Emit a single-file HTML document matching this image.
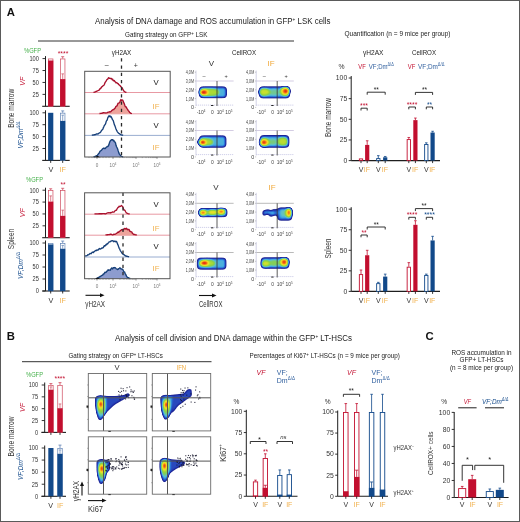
<!DOCTYPE html><html><head><meta charset="utf-8"><style>html,body{margin:0;padding:0;background:#fff;}svg{display:block;will-change:transform;}text{font-family:"Liberation Sans",sans-serif;}</style></head><body><svg width="520" height="522" viewBox="0 0 520 522" font-family='"Liberation Sans", sans-serif'><defs><filter id="jet" x="-20%" y="-40%" width="140%" height="180%" color-interpolation-filters="sRGB"><feGaussianBlur in="SourceAlpha" stdDeviation="1.0" result="b"/><feColorMatrix in="b" type="matrix" values="0 0 0 1 0 0 0 0 1 0 0 0 0 1 0 0 0 0 1 0"/><feComponentTransfer><feFuncR type="table" tableValues="0.1 0.1 0.1 0.1 0.12 0.16 0.16 0.25 0.38 0.48 0.55 0.65 0.8 0.93 0.97 0.97 0.93 0.88 0.82 0.78 0.76"/><feFuncG type="table" tableValues="0.1 0.1 0.12 0.13 0.18 0.28 0.45 0.65 0.76 0.8 0.82 0.85 0.88 0.88 0.78 0.58 0.38 0.18 0.08 0.05 0.04"/><feFuncB type="table" tableValues="0.5 0.52 0.55 0.58 0.64 0.74 0.84 0.9 0.78 0.45 0.28 0.22 0.18 0.15 0.12 0.1 0.08 0.07 0.07 0.05 0.04"/><feFuncA type="table" tableValues="0 0 1 1 1 1 1 1 1 1 1 1 1"/></feComponentTransfer></filter><filter id="bl" x="-20%" y="-40%" width="140%" height="180%"><feGaussianBlur stdDeviation="0.55"/></filter><filter id="bl2" x="-30%" y="-30%" width="160%" height="160%"><feGaussianBlur stdDeviation="0.7"/></filter></defs><rect width="520" height="522" fill="#fff"/><rect x="0.5" y="0.5" width="519" height="521" fill="none" stroke="#5a5a5a" stroke-width="1" />
<text x="6.8" y="16.3" font-size="11.3" fill="#111" text-anchor="start" font-weight="bold" >A</text>
<text x="6.8" y="340.2" font-size="11.3" fill="#111" text-anchor="start" font-weight="bold" >B</text>
<text x="425.5" y="339.8" font-size="11.3" fill="#111" text-anchor="start" font-weight="bold" >C</text>
<text x="95" y="23.6" font-size="8.4" fill="#222" text-anchor="start" textLength="235.5" lengthAdjust="spacingAndGlyphs" >Analysis of DNA damage and ROS accumulation in GFP<tspan font-size="5" dy="-3">+</tspan><tspan dy="3"> LSK cells</tspan></text>
<text x="125" y="37.2" font-size="6.6" fill="#222" text-anchor="start" textLength="82.5" lengthAdjust="spacingAndGlyphs" >Gating strategy on GFP<tspan font-size="4.5" dy="-2.5">+</tspan><tspan dy="2.5"> LSK</tspan></text>
<line x1="38" y1="41" x2="294" y2="41" stroke="#333" stroke-width="1" />
<text x="344.5" y="36.4" font-size="6.6" fill="#222" text-anchor="start" textLength="106" lengthAdjust="spacingAndGlyphs" >Quantification (n = 9 mice per group)</text>
<text x="115" y="341.2" font-size="8.4" fill="#222" text-anchor="start" textLength="237" lengthAdjust="spacingAndGlyphs" >Analysis of cell division and DNA damage within the GFP<tspan font-size="5" dy="-3">+</tspan><tspan dy="3"> LT-HSCs</tspan></text>
<text x="68.5" y="358" font-size="6.6" fill="#222" text-anchor="start" textLength="94.3" lengthAdjust="spacingAndGlyphs" >Gating strategy on GFP<tspan font-size="4.5" dy="-2.5">+</tspan><tspan dy="2.5"> LT-HSCs</tspan></text>
<line x1="22" y1="361.7" x2="211.5" y2="361.7" stroke="#333" stroke-width="1" />
<text x="249.5" y="358.2" font-size="6.6" fill="#222" text-anchor="start" textLength="150.3" lengthAdjust="spacingAndGlyphs" >Percentages of Ki67<tspan font-size="4.5" dy="-2.5">+</tspan><tspan dy="2.5"> LT-HSCs (n = 9 mice per group)</tspan></text>
<text x="481.5" y="355" font-size="6.4" fill="#222" text-anchor="middle" >ROS accumulation in</text>
<text x="481.5" y="362.2" font-size="6.4" fill="#222" text-anchor="middle" >GFP+ LT-HSCs</text>
<text x="481.5" y="370" font-size="6.4" fill="#222" text-anchor="middle" >(n = 8 mice per group)</text>
<text x="24" y="52.5" font-size="6.4" fill="#45b04a" text-anchor="start" textLength="17" lengthAdjust="spacingAndGlyphs" >%GFP</text>
<text x="63" y="56.1" font-size="8.049999999999999" fill="#c20f2f" text-anchor="middle" textLength="10.6" lengthAdjust="spacingAndGlyphs" >****</text>
<line x1="45.5" y1="56.1" x2="45.5" y2="106.3" stroke="#1e1e1e" stroke-width="1" />
<line x1="42.5" y1="58.599999999999994" x2="45.5" y2="58.599999999999994" stroke="#1e1e1e" stroke-width="0.9" />
<text x="38.9" y="60.89999999999999" font-size="6.6" fill="#333" text-anchor="end" textLength="9.45" lengthAdjust="spacingAndGlyphs" >100</text>
<line x1="42.5" y1="70.525" x2="45.5" y2="70.525" stroke="#1e1e1e" stroke-width="0.9" />
<text x="38.9" y="72.825" font-size="6.6" fill="#333" text-anchor="end" textLength="6.3" lengthAdjust="spacingAndGlyphs" >75</text>
<line x1="42.5" y1="82.44999999999999" x2="45.5" y2="82.44999999999999" stroke="#1e1e1e" stroke-width="0.9" />
<text x="38.9" y="84.74999999999999" font-size="6.6" fill="#333" text-anchor="end" textLength="6.3" lengthAdjust="spacingAndGlyphs" >50</text>
<line x1="42.5" y1="94.375" x2="45.5" y2="94.375" stroke="#1e1e1e" stroke-width="0.9" />
<text x="38.9" y="96.675" font-size="6.6" fill="#333" text-anchor="end" textLength="6.3" lengthAdjust="spacingAndGlyphs" >25</text>
<line x1="42.2" y1="106.3" x2="69.7" y2="106.3" stroke="#1e1e1e" stroke-width="1.1" />
<rect x="48.45" y="58.949999999999996" width="4.5" height="47.35" fill="#fff" stroke="#cf4a5e" stroke-width="0.7" />
<rect x="48.1" y="60.507999999999996" width="5.2" height="45.792" fill="#c20f2f" stroke="none" stroke-width="1" />
<line x1="62.7" y1="58.599999999999994" x2="62.7" y2="56.69200000000001" stroke="#cf4a5e" stroke-width="0.8" />
<line x1="61.2" y1="56.69200000000001" x2="64.2" y2="56.69200000000001" stroke="#cf4a5e" stroke-width="0.8" />
<rect x="60.45" y="58.949999999999996" width="4.5" height="47.35" fill="#fff" stroke="#cf4a5e" stroke-width="0.7" />
<rect x="60.1" y="79.111" width="5.2" height="27.188999999999993" fill="#c20f2f" stroke="none" stroke-width="1" />
<line x1="62.7" y1="79.111" x2="62.7" y2="73.864" stroke="#cf4a5e" stroke-width="0.7" />
<line x1="61.400000000000006" y1="73.864" x2="64.0" y2="73.864" stroke="#cf4a5e" stroke-width="0.7" />
<line x1="45.5" y1="110.3" x2="45.5" y2="160.4" stroke="#1e1e1e" stroke-width="1" />
<line x1="42.5" y1="112.8" x2="45.5" y2="112.8" stroke="#1e1e1e" stroke-width="0.9" />
<text x="38.9" y="115.1" font-size="6.6" fill="#333" text-anchor="end" textLength="9.45" lengthAdjust="spacingAndGlyphs" >100</text>
<line x1="42.5" y1="124.7" x2="45.5" y2="124.7" stroke="#1e1e1e" stroke-width="0.9" />
<text x="38.9" y="127.0" font-size="6.6" fill="#333" text-anchor="end" textLength="6.3" lengthAdjust="spacingAndGlyphs" >75</text>
<line x1="42.5" y1="136.6" x2="45.5" y2="136.6" stroke="#1e1e1e" stroke-width="0.9" />
<text x="38.9" y="138.9" font-size="6.6" fill="#333" text-anchor="end" textLength="6.3" lengthAdjust="spacingAndGlyphs" >50</text>
<line x1="42.5" y1="148.5" x2="45.5" y2="148.5" stroke="#1e1e1e" stroke-width="0.9" />
<text x="38.9" y="150.8" font-size="6.6" fill="#333" text-anchor="end" textLength="6.3" lengthAdjust="spacingAndGlyphs" >25</text>
<line x1="42.2" y1="160.4" x2="69.7" y2="160.4" stroke="#1e1e1e" stroke-width="1.1" />
<rect x="48.1" y="112.8" width="5.2" height="47.60000000000001" fill="#12498a" stroke="none" stroke-width="1" />
<line x1="50.7" y1="160.4" x2="50.7" y2="162.9" stroke="#1e1e1e" stroke-width="0.9" />
<line x1="62.7" y1="112.8" x2="62.7" y2="110.896" stroke="#5f82b4" stroke-width="0.8" />
<line x1="61.2" y1="110.896" x2="64.2" y2="110.896" stroke="#5f82b4" stroke-width="0.8" />
<rect x="60.45" y="113.14999999999999" width="4.5" height="47.25000000000001" fill="#fff" stroke="#5f82b4" stroke-width="0.7" />
<rect x="60.1" y="120.892" width="5.2" height="39.50800000000001" fill="#12498a" stroke="none" stroke-width="1" />
<line x1="62.7" y1="120.892" x2="62.7" y2="115.18" stroke="#5f82b4" stroke-width="0.7" />
<line x1="61.400000000000006" y1="115.18" x2="64.0" y2="115.18" stroke="#5f82b4" stroke-width="0.7" />
<line x1="62.7" y1="160.4" x2="62.7" y2="162.9" stroke="#1e1e1e" stroke-width="0.9" />
<text x="50.8" y="171.8" font-size="7.2" fill="#333" text-anchor="middle" >V</text>
<text x="62.8" y="171.8" font-size="7.2" fill="#f1b250" text-anchor="middle" >IF</text>
<text x="26" y="181.5" font-size="6.4" fill="#45b04a" text-anchor="start" textLength="17" lengthAdjust="spacingAndGlyphs" >%GFP</text>
<text x="63" y="186.6" font-size="8.049999999999999" fill="#c20f2f" text-anchor="middle" textLength="5.1" lengthAdjust="spacingAndGlyphs" >**</text>
<line x1="45.5" y1="187.7" x2="45.5" y2="237.7" stroke="#1e1e1e" stroke-width="1" />
<line x1="42.5" y1="190.2" x2="45.5" y2="190.2" stroke="#1e1e1e" stroke-width="0.9" />
<text x="38.9" y="192.5" font-size="6.6" fill="#333" text-anchor="end" textLength="9.45" lengthAdjust="spacingAndGlyphs" >100</text>
<line x1="42.5" y1="202.075" x2="45.5" y2="202.075" stroke="#1e1e1e" stroke-width="0.9" />
<text x="38.9" y="204.375" font-size="6.6" fill="#333" text-anchor="end" textLength="6.3" lengthAdjust="spacingAndGlyphs" >75</text>
<line x1="42.5" y1="213.95" x2="45.5" y2="213.95" stroke="#1e1e1e" stroke-width="0.9" />
<text x="38.9" y="216.25" font-size="6.6" fill="#333" text-anchor="end" textLength="6.3" lengthAdjust="spacingAndGlyphs" >50</text>
<line x1="42.5" y1="225.825" x2="45.5" y2="225.825" stroke="#1e1e1e" stroke-width="0.9" />
<text x="38.9" y="228.125" font-size="6.6" fill="#333" text-anchor="end" textLength="6.3" lengthAdjust="spacingAndGlyphs" >25</text>
<line x1="42.2" y1="237.7" x2="69.7" y2="237.7" stroke="#1e1e1e" stroke-width="1.1" />
<line x1="50.7" y1="190.2" x2="50.7" y2="188.77499999999998" stroke="#cf4a5e" stroke-width="0.8" />
<line x1="49.2" y1="188.77499999999998" x2="52.2" y2="188.77499999999998" stroke="#cf4a5e" stroke-width="0.8" />
<rect x="48.45" y="190.54999999999998" width="4.5" height="47.15" fill="#fff" stroke="#cf4a5e" stroke-width="0.7" />
<rect x="48.1" y="201.6" width="5.2" height="36.099999999999994" fill="#c20f2f" stroke="none" stroke-width="1" />
<line x1="50.7" y1="201.6" x2="50.7" y2="195.89999999999998" stroke="#cf4a5e" stroke-width="0.7" />
<line x1="49.400000000000006" y1="195.89999999999998" x2="52.0" y2="195.89999999999998" stroke="#cf4a5e" stroke-width="0.7" />
<line x1="62.7" y1="190.2" x2="62.7" y2="188.29999999999998" stroke="#cf4a5e" stroke-width="0.8" />
<line x1="61.2" y1="188.29999999999998" x2="64.2" y2="188.29999999999998" stroke="#cf4a5e" stroke-width="0.8" />
<rect x="60.45" y="190.54999999999998" width="4.5" height="47.15" fill="#fff" stroke="#cf4a5e" stroke-width="0.7" />
<rect x="60.1" y="215.85" width="5.2" height="21.849999999999994" fill="#c20f2f" stroke="none" stroke-width="1" />
<line x1="62.7" y1="215.85" x2="62.7" y2="210.14999999999998" stroke="#cf4a5e" stroke-width="0.7" />
<line x1="61.400000000000006" y1="210.14999999999998" x2="64.0" y2="210.14999999999998" stroke="#cf4a5e" stroke-width="0.7" />
<line x1="45.5" y1="240.5" x2="45.5" y2="291" stroke="#1e1e1e" stroke-width="1" />
<line x1="42.5" y1="243.0" x2="45.5" y2="243.0" stroke="#1e1e1e" stroke-width="0.9" />
<text x="38.9" y="245.3" font-size="6.6" fill="#333" text-anchor="end" textLength="9.45" lengthAdjust="spacingAndGlyphs" >100</text>
<line x1="42.5" y1="255.0" x2="45.5" y2="255.0" stroke="#1e1e1e" stroke-width="0.9" />
<text x="38.9" y="257.3" font-size="6.6" fill="#333" text-anchor="end" textLength="6.3" lengthAdjust="spacingAndGlyphs" >75</text>
<line x1="42.5" y1="267.0" x2="45.5" y2="267.0" stroke="#1e1e1e" stroke-width="0.9" />
<text x="38.9" y="269.3" font-size="6.6" fill="#333" text-anchor="end" textLength="6.3" lengthAdjust="spacingAndGlyphs" >50</text>
<line x1="42.5" y1="279.0" x2="45.5" y2="279.0" stroke="#1e1e1e" stroke-width="0.9" />
<text x="38.9" y="281.3" font-size="6.6" fill="#333" text-anchor="end" textLength="6.3" lengthAdjust="spacingAndGlyphs" >25</text>
<line x1="42.5" y1="291.0" x2="45.5" y2="291.0" stroke="#1e1e1e" stroke-width="0.9" />
<text x="38.9" y="293.3" font-size="6.6" fill="#333" text-anchor="end" textLength="3.15" lengthAdjust="spacingAndGlyphs" >0</text>
<line x1="42.2" y1="291" x2="69.7" y2="291" stroke="#1e1e1e" stroke-width="1.1" />
<rect x="48.45" y="243.35" width="4.5" height="47.65" fill="#fff" stroke="#5f82b4" stroke-width="0.7" />
<rect x="48.1" y="244.44" width="5.2" height="46.56" fill="#12498a" stroke="none" stroke-width="1" />
<line x1="50.7" y1="291" x2="50.7" y2="293.5" stroke="#1e1e1e" stroke-width="0.9" />
<line x1="62.7" y1="243.0" x2="62.7" y2="241.07999999999998" stroke="#5f82b4" stroke-width="0.8" />
<line x1="61.2" y1="241.07999999999998" x2="64.2" y2="241.07999999999998" stroke="#5f82b4" stroke-width="0.8" />
<rect x="60.45" y="243.35" width="4.5" height="47.65" fill="#fff" stroke="#5f82b4" stroke-width="0.7" />
<rect x="60.1" y="248.76" width="5.2" height="42.24000000000001" fill="#12498a" stroke="none" stroke-width="1" />
<line x1="62.7" y1="248.76" x2="62.7" y2="245.4" stroke="#5f82b4" stroke-width="0.7" />
<line x1="61.400000000000006" y1="245.4" x2="64.0" y2="245.4" stroke="#5f82b4" stroke-width="0.7" />
<line x1="62.7" y1="291" x2="62.7" y2="293.5" stroke="#1e1e1e" stroke-width="0.9" />
<text x="50.8" y="302.5" font-size="7.2" fill="#333" text-anchor="middle" >V</text>
<text x="62.8" y="302.5" font-size="7.2" fill="#f1b250" text-anchor="middle" >IF</text>
<text x="26" y="377.3" font-size="6.4" fill="#45b04a" text-anchor="start" textLength="17" lengthAdjust="spacingAndGlyphs" >%GFP</text>
<text x="59.8" y="380.8" font-size="8.049999999999999" fill="#c20f2f" text-anchor="middle" textLength="10.6" lengthAdjust="spacingAndGlyphs" >****</text>
<line x1="44.7" y1="382.5" x2="44.7" y2="432.4" stroke="#1e1e1e" stroke-width="1" />
<line x1="41.7" y1="385.0" x2="44.7" y2="385.0" stroke="#1e1e1e" stroke-width="0.9" />
<text x="38.1" y="387.3" font-size="6.6" fill="#333" text-anchor="end" textLength="9.45" lengthAdjust="spacingAndGlyphs" >100</text>
<line x1="41.7" y1="396.85" x2="44.7" y2="396.85" stroke="#1e1e1e" stroke-width="0.9" />
<text x="38.1" y="399.15000000000003" font-size="6.6" fill="#333" text-anchor="end" textLength="6.3" lengthAdjust="spacingAndGlyphs" >75</text>
<line x1="41.7" y1="408.7" x2="44.7" y2="408.7" stroke="#1e1e1e" stroke-width="0.9" />
<text x="38.1" y="411.0" font-size="6.6" fill="#333" text-anchor="end" textLength="6.3" lengthAdjust="spacingAndGlyphs" >50</text>
<line x1="41.7" y1="420.54999999999995" x2="44.7" y2="420.54999999999995" stroke="#1e1e1e" stroke-width="0.9" />
<text x="38.1" y="422.84999999999997" font-size="6.6" fill="#333" text-anchor="end" textLength="6.3" lengthAdjust="spacingAndGlyphs" >25</text>
<line x1="41.7" y1="432.4" x2="44.7" y2="432.4" stroke="#1e1e1e" stroke-width="0.9" />
<text x="38.1" y="434.7" font-size="6.6" fill="#333" text-anchor="end" textLength="3.15" lengthAdjust="spacingAndGlyphs" >0</text>
<line x1="41.400000000000006" y1="432.4" x2="66" y2="432.4" stroke="#1e1e1e" stroke-width="1.1" />
<line x1="50.9" y1="385.0" x2="50.9" y2="383.578" stroke="#cf4a5e" stroke-width="0.8" />
<line x1="49.4" y1="383.578" x2="52.4" y2="383.578" stroke="#cf4a5e" stroke-width="0.8" />
<rect x="48.65" y="385.35" width="4.5" height="47.049999999999976" fill="#fff" stroke="#cf4a5e" stroke-width="0.7" />
<rect x="48.3" y="389.74" width="5.2" height="42.65999999999997" fill="#c20f2f" stroke="none" stroke-width="1" />
<line x1="50.9" y1="389.74" x2="50.9" y2="386.896" stroke="#cf4a5e" stroke-width="0.7" />
<line x1="49.6" y1="386.896" x2="52.199999999999996" y2="386.896" stroke="#cf4a5e" stroke-width="0.7" />
<line x1="50.9" y1="432.4" x2="50.9" y2="434.9" stroke="#1e1e1e" stroke-width="0.9" />
<line x1="60" y1="385.0" x2="60" y2="382.63" stroke="#cf4a5e" stroke-width="0.8" />
<line x1="58.5" y1="382.63" x2="61.5" y2="382.63" stroke="#cf4a5e" stroke-width="0.8" />
<rect x="57.75" y="385.35" width="4.5" height="47.049999999999976" fill="#fff" stroke="#cf4a5e" stroke-width="0.7" />
<rect x="57.4" y="408.226" width="5.2" height="24.173999999999978" fill="#c20f2f" stroke="none" stroke-width="1" />
<line x1="60" y1="408.226" x2="60" y2="403.96" stroke="#cf4a5e" stroke-width="0.7" />
<line x1="58.7" y1="403.96" x2="61.3" y2="403.96" stroke="#cf4a5e" stroke-width="0.7" />
<line x1="60" y1="432.4" x2="60" y2="434.9" stroke="#1e1e1e" stroke-width="0.9" />
<line x1="44.7" y1="445.5" x2="44.7" y2="496.3" stroke="#1e1e1e" stroke-width="1" />
<line x1="41.7" y1="448.0" x2="44.7" y2="448.0" stroke="#1e1e1e" stroke-width="0.9" />
<text x="38.1" y="450.3" font-size="6.6" fill="#333" text-anchor="end" textLength="9.45" lengthAdjust="spacingAndGlyphs" >100</text>
<line x1="41.7" y1="460.075" x2="44.7" y2="460.075" stroke="#1e1e1e" stroke-width="0.9" />
<text x="38.1" y="462.375" font-size="6.6" fill="#333" text-anchor="end" textLength="6.3" lengthAdjust="spacingAndGlyphs" >75</text>
<line x1="41.7" y1="472.15" x2="44.7" y2="472.15" stroke="#1e1e1e" stroke-width="0.9" />
<text x="38.1" y="474.45" font-size="6.6" fill="#333" text-anchor="end" textLength="6.3" lengthAdjust="spacingAndGlyphs" >50</text>
<line x1="41.7" y1="484.225" x2="44.7" y2="484.225" stroke="#1e1e1e" stroke-width="0.9" />
<text x="38.1" y="486.52500000000003" font-size="6.6" fill="#333" text-anchor="end" textLength="6.3" lengthAdjust="spacingAndGlyphs" >25</text>
<line x1="41.7" y1="496.3" x2="44.7" y2="496.3" stroke="#1e1e1e" stroke-width="0.9" />
<text x="38.1" y="498.6" font-size="6.6" fill="#333" text-anchor="end" textLength="3.15" lengthAdjust="spacingAndGlyphs" >0</text>
<line x1="41.400000000000006" y1="496.3" x2="66" y2="496.3" stroke="#1e1e1e" stroke-width="1.1" />
<rect x="48.3" y="448.0" width="5.2" height="48.30000000000001" fill="#12498a" stroke="none" stroke-width="1" />
<line x1="50.9" y1="496.3" x2="50.9" y2="498.8" stroke="#1e1e1e" stroke-width="0.9" />
<line x1="60" y1="448.0" x2="60" y2="445.102" stroke="#5f82b4" stroke-width="0.8" />
<line x1="58.5" y1="445.102" x2="61.5" y2="445.102" stroke="#5f82b4" stroke-width="0.8" />
<rect x="57.75" y="448.35" width="4.5" height="47.95000000000001" fill="#fff" stroke="#5f82b4" stroke-width="0.7" />
<rect x="57.4" y="453.796" width="5.2" height="42.50400000000002" fill="#12498a" stroke="none" stroke-width="1" />
<line x1="60" y1="453.796" x2="60" y2="449.932" stroke="#5f82b4" stroke-width="0.7" />
<line x1="58.7" y1="449.932" x2="61.3" y2="449.932" stroke="#5f82b4" stroke-width="0.7" />
<line x1="60" y1="496.3" x2="60" y2="498.8" stroke="#1e1e1e" stroke-width="0.9" />
<text x="50.6" y="507.5" font-size="7.2" fill="#333" text-anchor="middle" >V</text>
<text x="60.2" y="507.5" font-size="7.2" fill="#f1b250" text-anchor="middle" >IF</text>
<text transform="translate(24.8,81.3) rotate(-90)" font-size="7" fill="#c20f2f" text-anchor="middle" font-style="italic" >VF</text>
<text transform="translate(22.5,135) rotate(-90)" font-size="6.4" fill="#12498a" text-anchor="middle" font-style="italic" >VF;Dm<tspan font-size="4.5" dy="-2.5">Δ/Δ</tspan></text>
<text transform="translate(14.3,108.3) rotate(-90)" font-size="8.8" fill="#333" text-anchor="middle" textLength="39" lengthAdjust="spacingAndGlyphs" >Bone marrow</text>
<text transform="translate(24.8,212.8) rotate(-90)" font-size="7" fill="#c20f2f" text-anchor="middle" font-style="italic" >VF</text>
<text transform="translate(22.5,265.5) rotate(-90)" font-size="6.4" fill="#12498a" text-anchor="middle" font-style="italic" >VF;Dm<tspan font-size="4.5" dy="-2.5">Δ/Δ</tspan></text>
<text transform="translate(14.3,239) rotate(-90)" font-size="8.8" fill="#333" text-anchor="middle" textLength="20.5" lengthAdjust="spacingAndGlyphs" >Spleen</text>
<text transform="translate(24.8,407.5) rotate(-90)" font-size="7" fill="#c20f2f" text-anchor="middle" font-style="italic" >VF</text>
<text transform="translate(22.5,466.5) rotate(-90)" font-size="6.4" fill="#12498a" text-anchor="middle" font-style="italic" >VF;Dm<tspan font-size="4.5" dy="-2.5">Δ/Δ</tspan></text>
<text transform="translate(14.3,436.5) rotate(-90)" font-size="8.8" fill="#333" text-anchor="middle" textLength="40" lengthAdjust="spacingAndGlyphs" >Bone marrow</text>
<text x="121.5" y="54.6" font-size="7" fill="#222" text-anchor="middle" textLength="19.5" lengthAdjust="spacingAndGlyphs" >γH2AX</text>
<text x="106.8" y="67" font-size="7" fill="#333" text-anchor="middle" >–</text>
<text x="135.7" y="67.5" font-size="7" fill="#333" text-anchor="middle" >+</text>
<rect x="84.7" y="71.3" width="85.49999999999999" height="85.7" fill="#fff" stroke="none" stroke-width="1" />
<line x1="84.7" y1="92.5" x2="170.2" y2="92.5" stroke="#e27f8c" stroke-width="0.8" />
<line x1="84.7" y1="113.8" x2="170.2" y2="113.8" stroke="#e27f8c" stroke-width="0.8" />
<line x1="84.7" y1="135.4" x2="170.2" y2="135.4" stroke="#7f98c4" stroke-width="0.8" />
<path d="M93.45,92.31 L94.00,92.22 L94.55,92.11 L95.10,91.96 L95.65,91.76 L96.20,91.31 L96.75,91.37 L97.30,90.78 L97.85,90.62 L98.40,90.44 L98.95,90.17 L99.50,89.65 L100.05,88.67 L100.60,88.50 L101.15,87.74 L101.70,86.98 L102.25,86.56 L102.80,85.79 L103.35,85.63 L103.90,85.17 L104.45,84.31 L105.00,82.71 L105.55,81.82 L106.10,81.14 L106.65,79.98 L107.20,79.34 L107.75,79.11 L108.30,78.04 L108.85,77.68 L109.40,78.43 L109.95,78.37 L110.50,78.62 L111.05,78.33 L111.60,78.64 L112.15,79.71 L112.70,79.21 L113.25,80.53 L113.80,80.81 L114.35,80.55 L114.90,81.58 L115.45,81.78 L116.00,82.86 L116.55,82.73 L117.10,82.86 L117.65,83.51 L118.20,83.68 L118.75,84.75 L119.30,84.98 L119.85,85.45 L120.40,85.98 L120.95,86.74 L121.50,87.13 L122.05,87.72 L122.60,88.94 L123.15,89.78 L123.70,90.92 L124.25,91.30 L124.80,91.70 L125.35,92.07 L125.90,92.26 L126.45,92.37" fill="none" stroke="#a8102c" stroke-width="1.35" stroke-linejoin="round"/>
<path d="M85.20,113.80 L85.75,113.80 L86.30,113.80 L86.85,113.80 L87.40,113.80 L87.95,113.80 L88.50,113.80 L89.05,113.80 L89.60,113.80 L90.15,113.80 L90.70,113.80 L91.25,113.80 L91.80,113.79 L92.35,113.79 L92.90,113.79 L93.45,113.78 L94.00,113.78 L94.55,113.77 L95.10,113.76 L95.65,113.75 L96.20,113.73 L96.75,113.71 L97.30,113.69 L97.85,113.66 L98.40,113.62 L98.95,113.58 L99.50,113.54 L100.05,113.48 L100.60,113.43 L101.15,113.36 L101.70,113.29 L102.25,113.22 L102.80,112.94 L103.35,112.76 L103.90,112.63 L104.45,112.79 L105.00,112.92 L105.55,112.95 L106.10,112.95 L106.65,112.93 L107.20,112.65 L107.75,112.32 L108.30,112.12 L108.85,112.16 L109.40,111.99 L109.95,111.69 L110.50,111.89 L111.05,111.43 L111.60,110.79 L112.15,110.33 L112.70,109.87 L113.25,109.64 L113.80,109.58 L114.35,108.64 L114.90,108.38 L115.45,107.40 L116.00,106.34 L116.55,106.16 L117.10,105.66 L117.65,104.16 L118.20,103.21 L118.75,103.11 L119.30,102.73 L119.85,102.18 L120.40,100.37 L120.95,99.57 L121.50,100.51 L122.05,100.05 L122.60,100.00 L123.15,101.05 L123.70,102.63 L124.25,103.62 L124.80,105.26 L125.35,106.70 L125.90,106.62 L126.45,107.53 L127.00,108.61 L127.55,109.19 L128.10,110.39 L128.65,110.97 L129.20,111.63 L129.75,112.54 L130.30,113.07 L130.85,113.26 L131.40,113.47 L131.95,113.61 L132.50,113.70 L133.05,113.75 L133.60,113.77 L134.15,113.79 L134.70,113.79 L135.25,113.80 L135.80,113.80 L136.35,113.80 L136.90,113.80 L137.45,113.80 L138.00,113.80 L138.55,113.80 L139.10,113.80 L139.65,113.80 L140.20,113.80 L140.75,113.80 L141.30,113.80 L141.85,113.80 L142.40,113.80 L142.95,113.80 L143.50,113.80 L144.05,113.80 L144.60,113.80 L145.15,113.80 L145.70,113.80 L146.25,113.80 L146.80,113.80 L147.35,113.80 L147.90,113.80 L148.45,113.80 L149.00,113.80 L149.55,113.80 L150.10,113.80 L150.65,113.80 L151.20,113.80 L151.75,113.80 L152.30,113.80 L152.85,113.80 L153.40,113.80 L153.95,113.80 L154.50,113.80 L155.05,113.80 L155.60,113.80 L156.15,113.80 L156.70,113.80 L157.25,113.80 L157.80,113.80 L158.35,113.80 L158.90,113.80 L159.45,113.80 L160.00,113.80 L160.55,113.80 L161.10,113.80 L161.65,113.80 L162.20,113.80 L162.75,113.80 L163.30,113.80 L163.85,113.80 L164.40,113.80 L164.95,113.80 L165.50,113.80 L166.05,113.80 L166.60,113.80 L167.15,113.80 L167.70,113.80 L168.25,113.80 L168.80,113.80 L169.35,113.80 L169.7,113.8 L85.2,113.8 Z" fill="#eea49c" stroke="none" stroke-width="1" />
<path d="M99.50,113.54 L100.05,113.48 L100.60,113.43 L101.15,113.36 L101.70,113.29 L102.25,113.22 L102.80,112.94 L103.35,112.76 L103.90,112.63 L104.45,112.79 L105.00,112.92 L105.55,112.95 L106.10,112.95 L106.65,112.93 L107.20,112.65 L107.75,112.32 L108.30,112.12 L108.85,112.16 L109.40,111.99 L109.95,111.69 L110.50,111.89 L111.05,111.43 L111.60,110.79 L112.15,110.33 L112.70,109.87 L113.25,109.64 L113.80,109.58 L114.35,108.64 L114.90,108.38 L115.45,107.40 L116.00,106.34 L116.55,106.16 L117.10,105.66 L117.65,104.16 L118.20,103.21 L118.75,103.11 L119.30,102.73 L119.85,102.18 L120.40,100.37 L120.95,99.57 L121.50,100.51 L122.05,100.05 L122.60,100.00 L123.15,101.05 L123.70,102.63 L124.25,103.62 L124.80,105.26 L125.35,106.70 L125.90,106.62 L126.45,107.53 L127.00,108.61 L127.55,109.19 L128.10,110.39 L128.65,110.97 L129.20,111.63 L129.75,112.54 L130.30,113.07 L130.85,113.26 L131.40,113.47 L131.95,113.61" fill="none" stroke="#a8102c" stroke-width="1.35" stroke-linejoin="round"/>
<path d="M91.80,135.16 L92.35,135.11 L92.90,135.04 L93.45,134.96 L94.00,134.86 L94.55,134.77 L95.10,134.80 L95.65,134.39 L96.20,134.16 L96.75,133.85 L97.30,133.99 L97.85,133.87 L98.40,133.81 L98.95,133.17 L99.50,132.96 L100.05,132.73 L100.60,132.14 L101.15,131.11 L101.70,130.24 L102.25,129.87 L102.80,129.34 L103.35,127.68 L103.90,126.61 L104.45,125.25 L105.00,124.70 L105.55,123.85 L106.10,121.84 L106.65,120.60 L107.20,120.02 L107.75,117.82 L108.30,116.88 L108.85,115.91 L109.40,116.66 L109.95,115.75 L110.50,116.96 L111.05,116.54 L111.60,117.58 L112.15,118.90 L112.70,119.90 L113.25,120.57 L113.80,122.68 L114.35,124.64 L114.90,125.79 L115.45,127.40 L116.00,128.92 L116.55,130.14 L117.10,131.29 L117.65,132.10 L118.20,132.74 L118.75,133.33 L119.30,133.58 L119.85,134.14 L120.40,134.44 L120.95,134.80 L121.50,134.88 L122.05,135.03 L122.60,135.14 L123.15,135.23" fill="none" stroke="#163f78" stroke-width="1.35" stroke-linejoin="round"/>
<path d="M85.20,157.00 L85.75,157.00 L86.30,157.00 L86.85,157.00 L87.40,157.00 L87.95,157.00 L88.50,157.00 L89.05,157.00 L89.60,157.00 L90.15,156.99 L90.70,156.99 L91.25,156.98 L91.80,156.96 L92.35,156.94 L92.90,156.90 L93.45,156.83 L94.00,156.74 L94.55,156.60 L95.10,156.41 L95.65,156.28 L96.20,155.80 L96.75,155.54 L97.30,155.27 L97.85,154.73 L98.40,153.79 L98.95,153.37 L99.50,152.35 L100.05,151.25 L100.60,150.84 L101.15,150.48 L101.70,149.96 L102.25,149.24 L102.80,148.59 L103.35,148.30 L103.90,148.00 L104.45,148.46 L105.00,148.51 L105.55,148.27 L106.10,147.33 L106.65,147.21 L107.20,146.47 L107.75,146.48 L108.30,145.95 L108.85,144.83 L109.40,143.06 L109.95,141.61 L110.50,140.47 L111.05,140.31 L111.60,139.73 L112.15,139.59 L112.70,139.72 L113.25,140.74 L113.80,140.31 L114.35,141.83 L114.90,141.90 L115.45,142.75 L116.00,145.34 L116.55,146.74 L117.10,147.79 L117.65,148.98 L118.20,150.91 L118.75,152.62 L119.30,153.96 L119.85,154.47 L120.40,155.49 L120.95,155.96 L121.50,156.47 L122.05,156.61 L122.60,156.78 L123.15,156.88 L123.70,156.94 L124.25,156.97 L124.80,156.98 L125.35,156.99 L125.90,157.00 L126.45,157.00 L127.00,157.00 L127.55,157.00 L128.10,157.00 L128.65,157.00 L129.20,157.00 L129.75,157.00 L130.30,157.00 L130.85,157.00 L131.40,157.00 L131.95,157.00 L132.50,157.00 L133.05,157.00 L133.60,157.00 L134.15,157.00 L134.70,157.00 L135.25,157.00 L135.80,157.00 L136.35,157.00 L136.90,157.00 L137.45,157.00 L138.00,157.00 L138.55,157.00 L139.10,157.00 L139.65,157.00 L140.20,157.00 L140.75,157.00 L141.30,157.00 L141.85,157.00 L142.40,157.00 L142.95,157.00 L143.50,157.00 L144.05,157.00 L144.60,157.00 L145.15,157.00 L145.70,157.00 L146.25,157.00 L146.80,157.00 L147.35,157.00 L147.90,157.00 L148.45,157.00 L149.00,157.00 L149.55,157.00 L150.10,157.00 L150.65,157.00 L151.20,157.00 L151.75,157.00 L152.30,157.00 L152.85,157.00 L153.40,157.00 L153.95,157.00 L154.50,157.00 L155.05,157.00 L155.60,157.00 L156.15,157.00 L156.70,157.00 L157.25,157.00 L157.80,157.00 L158.35,157.00 L158.90,157.00 L159.45,157.00 L160.00,157.00 L160.55,157.00 L161.10,157.00 L161.65,157.00 L162.20,157.00 L162.75,157.00 L163.30,157.00 L163.85,157.00 L164.40,157.00 L164.95,157.00 L165.50,157.00 L166.05,157.00 L166.60,157.00 L167.15,157.00 L167.70,157.00 L168.25,157.00 L168.80,157.00 L169.35,157.00 L169.7,157 L85.2,157 Z" fill="#8d9ccf" stroke="none" stroke-width="1" />
<path d="M93.45,156.83 L94.00,156.74 L94.55,156.60 L95.10,156.41 L95.65,156.28 L96.20,155.80 L96.75,155.54 L97.30,155.27 L97.85,154.73 L98.40,153.79 L98.95,153.37 L99.50,152.35 L100.05,151.25 L100.60,150.84 L101.15,150.48 L101.70,149.96 L102.25,149.24 L102.80,148.59 L103.35,148.30 L103.90,148.00 L104.45,148.46 L105.00,148.51 L105.55,148.27 L106.10,147.33 L106.65,147.21 L107.20,146.47 L107.75,146.48 L108.30,145.95 L108.85,144.83 L109.40,143.06 L109.95,141.61 L110.50,140.47 L111.05,140.31 L111.60,139.73 L112.15,139.59 L112.70,139.72 L113.25,140.74 L113.80,140.31 L114.35,141.83 L114.90,141.90 L115.45,142.75 L116.00,145.34 L116.55,146.74 L117.10,147.79 L117.65,148.98 L118.20,150.91 L118.75,152.62 L119.30,153.96 L119.85,154.47 L120.40,155.49 L120.95,155.96 L121.50,156.47 L122.05,156.61 L122.60,156.78 L123.15,156.88" fill="none" stroke="#163f78" stroke-width="1.35" stroke-linejoin="round"/>
<line x1="121.5" y1="58.3" x2="121.5" y2="157" stroke="#2a2a2a" stroke-width="1.3" stroke-dasharray="3.3,3.9"/>
<rect x="84.7" y="71.3" width="85.49999999999999" height="85.7" fill="none" stroke="#555" stroke-width="1" />
<text x="156" y="85.3" font-size="7.8" fill="#1a1a1a" text-anchor="middle" >V</text>
<text x="156" y="109.10000000000001" font-size="7.8" fill="#f1b250" text-anchor="middle" >IF</text>
<text x="156" y="127.7" font-size="7.8" fill="#1a1a1a" text-anchor="middle" >V</text>
<text x="156" y="149.7" font-size="7.8" fill="#f1b250" text-anchor="middle" >IF</text>
<text x="97" y="166.5" font-size="4.6" fill="#777" text-anchor="middle" >0</text>
<text x="113" y="166.5" font-size="4.6" fill="#777" text-anchor="middle" >10<tspan font-size="3" dy="-2">4</tspan></text>
<text x="136" y="166.5" font-size="4.6" fill="#777" text-anchor="middle" >10<tspan font-size="3" dy="-2">5</tspan></text>
<text x="157" y="166.5" font-size="4.6" fill="#777" text-anchor="middle" >10<tspan font-size="3" dy="-2">6</tspan></text>
<line x1="97" y1="157" x2="97" y2="158.8" stroke="#444" stroke-width="0.6" />
<line x1="113" y1="157" x2="113" y2="158.8" stroke="#444" stroke-width="0.6" />
<line x1="136" y1="157" x2="136" y2="158.8" stroke="#444" stroke-width="0.6" />
<line x1="157" y1="157" x2="157" y2="158.8" stroke="#444" stroke-width="0.6" />
<line x1="119.92368990027157" y1="157" x2="119.92368990027157" y2="158.1" stroke="#666" stroke-width="0.5" />
<line x1="142.3216299089436" y1="157" x2="142.3216299089436" y2="158.1" stroke="#666" stroke-width="0.5" />
<line x1="123.97378885855224" y1="157" x2="123.97378885855224" y2="158.1" stroke="#666" stroke-width="0.5" />
<line x1="146.01954634911291" y1="157" x2="146.01954634911291" y2="158.1" stroke="#666" stroke-width="0.5" />
<line x1="126.84737980054314" y1="157" x2="126.84737980054314" y2="158.1" stroke="#666" stroke-width="0.5" />
<line x1="148.6432598178872" y1="157" x2="148.6432598178872" y2="158.1" stroke="#666" stroke-width="0.5" />
<line x1="129.07631009972843" y1="157" x2="129.07631009972843" y2="158.1" stroke="#666" stroke-width="0.5" />
<line x1="150.6783700910564" y1="157" x2="150.6783700910564" y2="158.1" stroke="#666" stroke-width="0.5" />
<line x1="130.8974787588238" y1="157" x2="130.8974787588238" y2="158.1" stroke="#666" stroke-width="0.5" />
<line x1="152.34117625805652" y1="157" x2="152.34117625805652" y2="158.1" stroke="#666" stroke-width="0.5" />
<line x1="132.43725492032792" y1="157" x2="132.43725492032792" y2="158.1" stroke="#666" stroke-width="0.5" />
<line x1="153.7470588402994" y1="157" x2="153.7470588402994" y2="158.1" stroke="#666" stroke-width="0.5" />
<line x1="133.7710697008147" y1="157" x2="133.7710697008147" y2="158.1" stroke="#666" stroke-width="0.5" />
<line x1="154.96488972683082" y1="157" x2="154.96488972683082" y2="158.1" stroke="#666" stroke-width="0.5" />
<line x1="134.94757771710448" y1="157" x2="134.94757771710448" y2="158.1" stroke="#666" stroke-width="0.5" />
<line x1="156.03909269822583" y1="157" x2="156.03909269822583" y2="158.1" stroke="#666" stroke-width="0.5" />
<line x1="89" y1="157" x2="89" y2="158.1" stroke="#666" stroke-width="0.5" />
<line x1="92" y1="157" x2="92" y2="158.1" stroke="#666" stroke-width="0.5" />
<line x1="94.5" y1="157" x2="94.5" y2="158.1" stroke="#666" stroke-width="0.5" />
<line x1="100" y1="157" x2="100" y2="158.1" stroke="#666" stroke-width="0.5" />
<line x1="103" y1="157" x2="103" y2="158.1" stroke="#666" stroke-width="0.5" />
<line x1="106" y1="157" x2="106" y2="158.1" stroke="#666" stroke-width="0.5" />
<line x1="109" y1="157" x2="109" y2="158.1" stroke="#666" stroke-width="0.5" />
<path d="M95,157.2 l2.5,-1.5 l2.5,1.5z" fill="#111" stroke="none" stroke-width="1" />
<rect x="84.6" y="192.8" width="85.4" height="85.89999999999998" fill="#fff" stroke="none" stroke-width="1" />
<line x1="84.6" y1="214.2" x2="170" y2="214.2" stroke="#e27f8c" stroke-width="0.8" />
<line x1="84.6" y1="235.2" x2="170" y2="235.2" stroke="#e27f8c" stroke-width="0.8" />
<line x1="84.6" y1="257" x2="170" y2="257" stroke="#7f98c4" stroke-width="0.8" />
<path d="M94.45,213.87 L95.00,213.86 L95.55,213.85 L96.10,213.84 L96.65,213.83 L97.20,213.82 L97.75,213.81 L98.30,213.80 L98.85,213.79 L99.40,213.78 L99.95,213.78 L100.50,213.76 L101.05,213.75 L101.60,213.74 L102.15,213.72 L102.70,213.70 L103.25,213.67 L103.80,213.64 L104.35,213.60 L104.90,213.72 L105.45,213.77 L106.00,213.57 L106.55,213.34 L107.10,213.02 L107.65,212.94 L108.20,212.89 L108.75,212.74 L109.30,212.81 L109.85,212.73 L110.40,213.02 L110.95,212.55 L111.50,212.67 L112.05,212.10 L112.60,211.93 L113.15,212.03 L113.70,212.11 L114.25,211.87 L114.80,211.11 L115.35,210.35 L115.90,210.36 L116.45,210.12 L117.00,209.01 L117.55,207.98 L118.10,207.43 L118.65,207.16 L119.20,206.20 L119.75,206.67 L120.30,206.43 L120.85,206.17 L121.40,205.43 L121.95,205.99 L122.50,206.32 L123.05,207.62 L123.60,209.06 L124.15,210.15 L124.70,210.21 L125.25,210.95 L125.80,212.00 L126.35,212.93 L126.90,213.17 L127.45,213.33 L128.00,213.62 L128.55,213.81 L129.10,213.95 L129.65,214.04" fill="none" stroke="#a8102c" stroke-width="1.35" stroke-linejoin="round"/>
<path d="M85.10,235.20 L85.65,235.20 L86.20,235.20 L86.75,235.20 L87.30,235.20 L87.85,235.20 L88.40,235.20 L88.95,235.20 L89.50,235.20 L90.05,235.20 L90.60,235.20 L91.15,235.20 L91.70,235.20 L92.25,235.20 L92.80,235.20 L93.35,235.20 L93.90,235.20 L94.45,235.19 L95.00,235.19 L95.55,235.19 L96.10,235.19 L96.65,235.18 L97.20,235.18 L97.75,235.17 L98.30,235.17 L98.85,235.16 L99.40,235.15 L99.95,235.14 L100.50,235.12 L101.05,235.11 L101.60,235.09 L102.15,235.07 L102.70,235.04 L103.25,235.02 L103.80,234.99 L104.35,234.96 L104.90,234.92 L105.45,234.89 L106.00,234.85 L106.55,234.81 L107.10,234.78 L107.65,234.74 L108.20,234.70 L108.75,234.66 L109.30,234.63 L109.85,234.42 L110.40,234.26 L110.95,234.10 L111.50,234.42 L112.05,234.68 L112.60,234.79 L113.15,234.57 L113.70,234.28 L114.25,234.26 L114.80,234.33 L115.35,234.16 L115.90,233.80 L116.45,233.41 L117.00,232.96 L117.55,232.41 L118.10,232.09 L118.65,232.35 L119.20,231.35 L119.75,231.33 L120.30,230.71 L120.85,230.48 L121.40,229.59 L121.95,229.88 L122.50,229.85 L123.05,229.76 L123.60,229.83 L124.15,228.55 L124.70,228.47 L125.25,228.92 L125.80,229.10 L126.35,228.23 L126.90,228.78 L127.45,229.68 L128.00,229.34 L128.55,229.65 L129.10,229.53 L129.65,231.06 L130.20,231.49 L130.75,231.51 L131.30,231.78 L131.85,232.10 L132.40,233.37 L132.95,233.87 L133.50,234.37 L134.05,234.64 L134.60,234.38 L135.15,234.68 L135.70,234.83 L136.25,234.94 L136.80,235.02 L137.35,235.08 L137.90,235.12 L138.45,235.15 L139.00,235.17 L139.55,235.18 L140.10,235.19 L140.65,235.19 L141.20,235.20 L141.75,235.20 L142.30,235.20 L142.85,235.20 L143.40,235.20 L143.95,235.20 L144.50,235.20 L145.05,235.20 L145.60,235.20 L146.15,235.20 L146.70,235.20 L147.25,235.20 L147.80,235.20 L148.35,235.20 L148.90,235.20 L149.45,235.20 L150.00,235.20 L150.55,235.20 L151.10,235.20 L151.65,235.20 L152.20,235.20 L152.75,235.20 L153.30,235.20 L153.85,235.20 L154.40,235.20 L154.95,235.20 L155.50,235.20 L156.05,235.20 L156.60,235.20 L157.15,235.20 L157.70,235.20 L158.25,235.20 L158.80,235.20 L159.35,235.20 L159.90,235.20 L160.45,235.20 L161.00,235.20 L161.55,235.20 L162.10,235.20 L162.65,235.20 L163.20,235.20 L163.75,235.20 L164.30,235.20 L164.85,235.20 L165.40,235.20 L165.95,235.20 L166.50,235.20 L167.05,235.20 L167.60,235.20 L168.15,235.20 L168.70,235.20 L169.25,235.20 L169.5,235.2 L85.1,235.2 Z" fill="#eea49c" stroke="none" stroke-width="1" />
<path d="M105.45,234.89 L106.00,234.85 L106.55,234.81 L107.10,234.78 L107.65,234.74 L108.20,234.70 L108.75,234.66 L109.30,234.63 L109.85,234.42 L110.40,234.26 L110.95,234.10 L111.50,234.42 L112.05,234.68 L112.60,234.79 L113.15,234.57 L113.70,234.28 L114.25,234.26 L114.80,234.33 L115.35,234.16 L115.90,233.80 L116.45,233.41 L117.00,232.96 L117.55,232.41 L118.10,232.09 L118.65,232.35 L119.20,231.35 L119.75,231.33 L120.30,230.71 L120.85,230.48 L121.40,229.59 L121.95,229.88 L122.50,229.85 L123.05,229.76 L123.60,229.83 L124.15,228.55 L124.70,228.47 L125.25,228.92 L125.80,229.10 L126.35,228.23 L126.90,228.78 L127.45,229.68 L128.00,229.34 L128.55,229.65 L129.10,229.53 L129.65,231.06 L130.20,231.49 L130.75,231.51 L131.30,231.78 L131.85,232.10 L132.40,233.37 L132.95,233.87 L133.50,234.37 L134.05,234.64 L134.60,234.38 L135.15,234.68 L135.70,234.83 L136.25,234.94 L136.80,235.02" fill="none" stroke="#a8102c" stroke-width="1.35" stroke-linejoin="round"/>
<path d="M85.10,256.02 L85.65,255.83 L86.20,255.82 L86.75,255.66 L87.30,255.33 L87.85,254.78 L88.40,254.90 L88.95,254.59 L89.50,254.06 L90.05,253.51 L90.60,253.70 L91.15,253.72 L91.70,252.89 L92.25,252.26 L92.80,252.25 L93.35,252.52 L93.90,251.65 L94.45,251.61 L95.00,250.90 L95.55,250.70 L96.10,250.23 L96.65,250.61 L97.20,249.95 L97.75,250.14 L98.30,249.89 L98.85,249.09 L99.40,248.56 L99.95,248.97 L100.50,249.00 L101.05,248.63 L101.60,248.13 L102.15,247.89 L102.70,247.96 L103.25,247.65 L103.80,246.60 L104.35,245.60 L104.90,246.15 L105.45,245.41 L106.00,244.49 L106.55,244.91 L107.10,243.60 L107.65,243.88 L108.20,242.99 L108.75,242.41 L109.30,241.80 L109.85,241.89 L110.40,241.61 L110.95,241.10 L111.50,241.07 L112.05,240.62 L112.60,240.78 L113.15,240.90 L113.70,241.74 L114.25,241.13 L114.80,241.13 L115.35,241.72 L115.90,241.29 L116.45,241.41 L117.00,242.51 L117.55,244.10 L118.10,245.08 L118.65,246.82 L119.20,248.29 L119.75,249.21 L120.30,250.62 L120.85,251.36 L121.40,252.05 L121.95,253.19 L122.50,253.48 L123.05,254.34 L123.60,254.48 L124.15,254.74 L124.70,255.21 L125.25,255.82 L125.80,255.98 L126.35,256.21 L126.90,256.18 L127.45,256.46 L128.00,256.58 L128.55,256.68 L129.10,256.76" fill="none" stroke="#163f78" stroke-width="1.35" stroke-linejoin="round"/>
<path d="M85.10,278.70 L85.65,278.70 L86.20,278.70 L86.75,278.70 L87.30,278.70 L87.85,278.70 L88.40,278.70 L88.95,278.70 L89.50,278.70 L90.05,278.70 L90.60,278.70 L91.15,278.70 L91.70,278.70 L92.25,278.70 L92.80,278.69 L93.35,278.68 L93.90,278.67 L94.45,278.65 L95.00,278.62 L95.55,278.57 L96.10,278.50 L96.65,278.39 L97.20,278.25 L97.75,278.07 L98.30,277.61 L98.85,277.27 L99.40,277.20 L99.95,276.49 L100.50,276.56 L101.05,275.96 L101.60,275.52 L102.15,275.24 L102.70,275.09 L103.25,273.96 L103.80,274.11 L104.35,273.31 L104.90,272.17 L105.45,272.49 L106.00,272.40 L106.55,271.58 L107.10,271.12 L107.65,270.50 L108.20,269.74 L108.75,270.23 L109.30,270.13 L109.85,269.98 L110.40,270.24 L110.95,268.84 L111.50,268.23 L112.05,267.96 L112.60,269.00 L113.15,267.99 L113.70,267.60 L114.25,267.86 L114.80,267.48 L115.35,267.81 L115.90,268.40 L116.45,268.96 L117.00,269.07 L117.55,269.54 L118.10,269.32 L118.65,268.54 L119.20,268.29 L119.75,267.94 L120.30,268.02 L120.85,268.88 L121.40,268.91 L121.95,269.30 L122.50,269.17 L123.05,269.93 L123.60,271.16 L124.15,271.71 L124.70,272.13 L125.25,273.85 L125.80,274.41 L126.35,275.99 L126.90,276.79 L127.45,277.42 L128.00,277.58 L128.55,277.74 L129.10,278.21 L129.65,278.38 L130.20,278.50 L130.75,278.57 L131.30,278.62 L131.85,278.65 L132.40,278.67 L132.95,278.68 L133.50,278.69 L134.05,278.69 L134.60,278.70 L135.15,278.70 L135.70,278.70 L136.25,278.70 L136.80,278.70 L137.35,278.70 L137.90,278.70 L138.45,278.70 L139.00,278.70 L139.55,278.70 L140.10,278.70 L140.65,278.70 L141.20,278.70 L141.75,278.70 L142.30,278.70 L142.85,278.70 L143.40,278.70 L143.95,278.70 L144.50,278.70 L145.05,278.70 L145.60,278.70 L146.15,278.70 L146.70,278.70 L147.25,278.70 L147.80,278.70 L148.35,278.70 L148.90,278.70 L149.45,278.70 L150.00,278.70 L150.55,278.70 L151.10,278.70 L151.65,278.70 L152.20,278.70 L152.75,278.70 L153.30,278.70 L153.85,278.70 L154.40,278.70 L154.95,278.70 L155.50,278.70 L156.05,278.70 L156.60,278.70 L157.15,278.70 L157.70,278.70 L158.25,278.70 L158.80,278.70 L159.35,278.70 L159.90,278.70 L160.45,278.70 L161.00,278.70 L161.55,278.70 L162.10,278.70 L162.65,278.70 L163.20,278.70 L163.75,278.70 L164.30,278.70 L164.85,278.70 L165.40,278.70 L165.95,278.70 L166.50,278.70 L167.05,278.70 L167.60,278.70 L168.15,278.70 L168.70,278.70 L169.25,278.70 L169.5,278.7 L85.1,278.7 Z" fill="#8d9ccf" stroke="none" stroke-width="1" />
<path d="M96.10,278.50 L96.65,278.39 L97.20,278.25 L97.75,278.07 L98.30,277.61 L98.85,277.27 L99.40,277.20 L99.95,276.49 L100.50,276.56 L101.05,275.96 L101.60,275.52 L102.15,275.24 L102.70,275.09 L103.25,273.96 L103.80,274.11 L104.35,273.31 L104.90,272.17 L105.45,272.49 L106.00,272.40 L106.55,271.58 L107.10,271.12 L107.65,270.50 L108.20,269.74 L108.75,270.23 L109.30,270.13 L109.85,269.98 L110.40,270.24 L110.95,268.84 L111.50,268.23 L112.05,267.96 L112.60,269.00 L113.15,267.99 L113.70,267.60 L114.25,267.86 L114.80,267.48 L115.35,267.81 L115.90,268.40 L116.45,268.96 L117.00,269.07 L117.55,269.54 L118.10,269.32 L118.65,268.54 L119.20,268.29 L119.75,267.94 L120.30,268.02 L120.85,268.88 L121.40,268.91 L121.95,269.30 L122.50,269.17 L123.05,269.93 L123.60,271.16 L124.15,271.71 L124.70,272.13 L125.25,273.85 L125.80,274.41 L126.35,275.99 L126.90,276.79 L127.45,277.42 L128.00,277.58 L128.55,277.74 L129.10,278.21 L129.65,278.38 L130.20,278.50" fill="none" stroke="#163f78" stroke-width="1.35" stroke-linejoin="round"/>
<line x1="123" y1="192.8" x2="123" y2="278.7" stroke="#2a2a2a" stroke-width="1.3" stroke-dasharray="3.3,3.9"/>
<rect x="84.6" y="192.8" width="85.4" height="85.89999999999998" fill="none" stroke="#555" stroke-width="1" />
<text x="156" y="206.5" font-size="7.8" fill="#1a1a1a" text-anchor="middle" >V</text>
<text x="156" y="230.5" font-size="7.8" fill="#f1b250" text-anchor="middle" >IF</text>
<text x="156" y="248.7" font-size="7.8" fill="#1a1a1a" text-anchor="middle" >V</text>
<text x="156" y="270.7" font-size="7.8" fill="#f1b250" text-anchor="middle" >IF</text>
<text x="97" y="288.2" font-size="4.6" fill="#777" text-anchor="middle" >0</text>
<text x="113" y="288.2" font-size="4.6" fill="#777" text-anchor="middle" >10<tspan font-size="3" dy="-2">4</tspan></text>
<text x="136" y="288.2" font-size="4.6" fill="#777" text-anchor="middle" >10<tspan font-size="3" dy="-2">5</tspan></text>
<text x="157" y="288.2" font-size="4.6" fill="#777" text-anchor="middle" >10<tspan font-size="3" dy="-2">6</tspan></text>
<line x1="97" y1="278.7" x2="97" y2="280.5" stroke="#444" stroke-width="0.6" />
<line x1="113" y1="278.7" x2="113" y2="280.5" stroke="#444" stroke-width="0.6" />
<line x1="136" y1="278.7" x2="136" y2="280.5" stroke="#444" stroke-width="0.6" />
<line x1="157" y1="278.7" x2="157" y2="280.5" stroke="#444" stroke-width="0.6" />
<line x1="119.92368990027157" y1="278.7" x2="119.92368990027157" y2="279.8" stroke="#666" stroke-width="0.5" />
<line x1="142.3216299089436" y1="278.7" x2="142.3216299089436" y2="279.8" stroke="#666" stroke-width="0.5" />
<line x1="123.97378885855224" y1="278.7" x2="123.97378885855224" y2="279.8" stroke="#666" stroke-width="0.5" />
<line x1="146.01954634911291" y1="278.7" x2="146.01954634911291" y2="279.8" stroke="#666" stroke-width="0.5" />
<line x1="126.84737980054314" y1="278.7" x2="126.84737980054314" y2="279.8" stroke="#666" stroke-width="0.5" />
<line x1="148.6432598178872" y1="278.7" x2="148.6432598178872" y2="279.8" stroke="#666" stroke-width="0.5" />
<line x1="129.07631009972843" y1="278.7" x2="129.07631009972843" y2="279.8" stroke="#666" stroke-width="0.5" />
<line x1="150.6783700910564" y1="278.7" x2="150.6783700910564" y2="279.8" stroke="#666" stroke-width="0.5" />
<line x1="130.8974787588238" y1="278.7" x2="130.8974787588238" y2="279.8" stroke="#666" stroke-width="0.5" />
<line x1="152.34117625805652" y1="278.7" x2="152.34117625805652" y2="279.8" stroke="#666" stroke-width="0.5" />
<line x1="132.43725492032792" y1="278.7" x2="132.43725492032792" y2="279.8" stroke="#666" stroke-width="0.5" />
<line x1="153.7470588402994" y1="278.7" x2="153.7470588402994" y2="279.8" stroke="#666" stroke-width="0.5" />
<line x1="133.7710697008147" y1="278.7" x2="133.7710697008147" y2="279.8" stroke="#666" stroke-width="0.5" />
<line x1="154.96488972683082" y1="278.7" x2="154.96488972683082" y2="279.8" stroke="#666" stroke-width="0.5" />
<line x1="134.94757771710448" y1="278.7" x2="134.94757771710448" y2="279.8" stroke="#666" stroke-width="0.5" />
<line x1="156.03909269822583" y1="278.7" x2="156.03909269822583" y2="279.8" stroke="#666" stroke-width="0.5" />
<line x1="89" y1="278.7" x2="89" y2="279.8" stroke="#666" stroke-width="0.5" />
<line x1="92" y1="278.7" x2="92" y2="279.8" stroke="#666" stroke-width="0.5" />
<line x1="94.5" y1="278.7" x2="94.5" y2="279.8" stroke="#666" stroke-width="0.5" />
<line x1="100" y1="278.7" x2="100" y2="279.8" stroke="#666" stroke-width="0.5" />
<line x1="103" y1="278.7" x2="103" y2="279.8" stroke="#666" stroke-width="0.5" />
<line x1="106" y1="278.7" x2="106" y2="279.8" stroke="#666" stroke-width="0.5" />
<line x1="109" y1="278.7" x2="109" y2="279.8" stroke="#666" stroke-width="0.5" />
<path d="M95,278.9 l2.5,-1.5 l2.5,1.5z" fill="#111" stroke="none" stroke-width="1" />
<line x1="85.5" y1="295.3" x2="101" y2="295.3" stroke="#111" stroke-width="1.1" />
<path d="M104.5,295.3 l-4.5,-2 v4z" fill="#111" stroke="none" stroke-width="1" />
<text x="85.3" y="306.6" font-size="8.6" fill="#333" text-anchor="start" textLength="19.8" lengthAdjust="spacingAndGlyphs" >γH2AX</text>
<text x="244" y="54.6" font-size="7" fill="#222" text-anchor="middle" textLength="24" lengthAdjust="spacingAndGlyphs" >CellROX</text>
<text x="211.5" y="66" font-size="8" fill="#333" text-anchor="middle" >V</text>
<text x="271" y="66" font-size="8" fill="#f1aa3c" text-anchor="middle" >IF</text>
<text x="216" y="189.8" font-size="8" fill="#333" text-anchor="middle" >V</text>
<text x="272" y="189.8" font-size="8" fill="#f1aa3c" text-anchor="middle" >IF</text>
<line x1="196" y1="81.0" x2="233.6" y2="81.0" stroke="#c9c0dc" stroke-width="0.8" />
<line x1="196" y1="105.1" x2="233.6" y2="105.1" stroke="#c4c4e4" stroke-width="0.8" stroke-dasharray="1.2,0.8"/>
<line x1="196" y1="70.5" x2="196" y2="106.0" stroke="#c8c8e0" stroke-width="0.8" />
<text x="194" y="74.10000000000001" font-size="5.4" fill="#444" text-anchor="end" textLength="8.2" lengthAdjust="spacingAndGlyphs" >4,0M</text>
<line x1="194.8" y1="72.2" x2="196" y2="72.2" stroke="#999" stroke-width="0.5" />
<text x="194" y="82.9" font-size="5.4" fill="#444" text-anchor="end" textLength="8.2" lengthAdjust="spacingAndGlyphs" >3,0M</text>
<line x1="194.8" y1="81.0" x2="196" y2="81.0" stroke="#999" stroke-width="0.5" />
<text x="194" y="91.70000000000002" font-size="5.4" fill="#444" text-anchor="end" textLength="8.2" lengthAdjust="spacingAndGlyphs" >2,0M</text>
<line x1="194.8" y1="89.80000000000001" x2="196" y2="89.80000000000001" stroke="#999" stroke-width="0.5" />
<text x="194" y="100.50000000000001" font-size="5.4" fill="#444" text-anchor="end" textLength="8.2" lengthAdjust="spacingAndGlyphs" >1,0M</text>
<line x1="194.8" y1="98.60000000000001" x2="196" y2="98.60000000000001" stroke="#999" stroke-width="0.5" />
<text x="194" y="109.30000000000001" font-size="5.4" fill="#444" text-anchor="end" >0</text>
<line x1="194.8" y1="107.4" x2="196" y2="107.4" stroke="#999" stroke-width="0.5" />
<text x="204" y="78.0" font-size="5.5" fill="#333" text-anchor="middle" >–</text>
<text x="226" y="78.3" font-size="5.5" fill="#333" text-anchor="middle" >+</text>
<g filter="url(#jet)"><rect x="199" y="86.3" width="28" height="12.0" rx="3" fill="#000" fill-opacity="0.2"/><rect x="200.4" y="87.7" width="25.2" height="9.2" rx="2" fill="#000" fill-opacity="0.213"/><ellipse cx="209" cy="92.3" rx="10" ry="3.8" fill="#000" fill-opacity="0.3"/><ellipse cx="204" cy="92.3" rx="4" ry="3" fill="#000" fill-opacity="0.5"/><ellipse cx="203.6" cy="92.4" rx="2" ry="1.4" fill="#000" fill-opacity="0.55"/></g>
<line x1="217" y1="81.0" x2="217" y2="106.0" stroke="#333" stroke-width="0.8" />
<text x="201" y="114.0" font-size="4.9" fill="#444" text-anchor="middle" >-10<tspan font-size="3" dy="-2">4</tspan></text>
<text x="212.3" y="114.0" font-size="4.9" fill="#444" text-anchor="middle" >0</text>
<text x="220.2" y="114.0" font-size="4.9" fill="#444" text-anchor="middle" >10<tspan font-size="3" dy="-2">4</tspan></text>
<text x="228.8" y="114.0" font-size="4.9" fill="#444" text-anchor="middle" >10<tspan font-size="3" dy="-2">5</tspan></text>
<path d="M211,106.0 h2.4 v-0.9 h-2.4z" fill="#111" stroke="none" stroke-width="1" />
<line x1="256.2" y1="81.0" x2="293.8" y2="81.0" stroke="#c9c0dc" stroke-width="0.8" />
<line x1="256.2" y1="105.1" x2="293.8" y2="105.1" stroke="#c4c4e4" stroke-width="0.8" stroke-dasharray="1.2,0.8"/>
<line x1="256.2" y1="70.5" x2="256.2" y2="106.0" stroke="#c8c8e0" stroke-width="0.8" />
<text x="254.2" y="74.10000000000001" font-size="5.4" fill="#444" text-anchor="end" textLength="8.2" lengthAdjust="spacingAndGlyphs" >4,0M</text>
<line x1="255.0" y1="72.2" x2="256.2" y2="72.2" stroke="#999" stroke-width="0.5" />
<text x="254.2" y="82.9" font-size="5.4" fill="#444" text-anchor="end" textLength="8.2" lengthAdjust="spacingAndGlyphs" >3,0M</text>
<line x1="255.0" y1="81.0" x2="256.2" y2="81.0" stroke="#999" stroke-width="0.5" />
<text x="254.2" y="91.70000000000002" font-size="5.4" fill="#444" text-anchor="end" textLength="8.2" lengthAdjust="spacingAndGlyphs" >2,0M</text>
<line x1="255.0" y1="89.80000000000001" x2="256.2" y2="89.80000000000001" stroke="#999" stroke-width="0.5" />
<text x="254.2" y="100.50000000000001" font-size="5.4" fill="#444" text-anchor="end" textLength="8.2" lengthAdjust="spacingAndGlyphs" >1,0M</text>
<line x1="255.0" y1="98.60000000000001" x2="256.2" y2="98.60000000000001" stroke="#999" stroke-width="0.5" />
<text x="254.2" y="109.30000000000001" font-size="5.4" fill="#444" text-anchor="end" >0</text>
<line x1="255.0" y1="107.4" x2="256.2" y2="107.4" stroke="#999" stroke-width="0.5" />
<text x="264.2" y="78.0" font-size="5.5" fill="#333" text-anchor="middle" >–</text>
<text x="286.2" y="78.3" font-size="5.5" fill="#333" text-anchor="middle" >+</text>
<g filter="url(#jet)"><rect x="259.0" y="86.3" width="30.999999999999996" height="12.2" rx="3" fill="#000" fill-opacity="0.2"/><rect x="260.4" y="87.7" width="28.199999999999996" height="9.399999999999999" rx="2" fill="#000" fill-opacity="0.213"/><rect x="270.2" y="88.0" width="8" height="9.0" rx="2" fill="#000" fill-opacity="-0.0"/><ellipse cx="264.2" cy="92.0" rx="5.5" ry="3.6" fill="#000" fill-opacity="0.36"/><ellipse cx="285.2" cy="91.3" rx="4.6" ry="4.2" fill="#000" fill-opacity="0.5"/><ellipse cx="285.59999999999997" cy="91.1" rx="2.4" ry="2.2" fill="#000" fill-opacity="0.6"/><ellipse cx="274.2" cy="92.3" rx="6" ry="3" fill="#000" fill-opacity="0.1"/></g>
<line x1="277.2" y1="81.0" x2="277.2" y2="106.0" stroke="#333" stroke-width="0.8" />
<text x="261.2" y="114.0" font-size="4.9" fill="#444" text-anchor="middle" >-10<tspan font-size="3" dy="-2">4</tspan></text>
<text x="272.5" y="114.0" font-size="4.9" fill="#444" text-anchor="middle" >0</text>
<text x="280.4" y="114.0" font-size="4.9" fill="#444" text-anchor="middle" >10<tspan font-size="3" dy="-2">4</tspan></text>
<text x="289.0" y="114.0" font-size="4.9" fill="#444" text-anchor="middle" >10<tspan font-size="3" dy="-2">5</tspan></text>
<path d="M271.2,106.0 h2.4 v-0.9 h-2.4z" fill="#111" stroke="none" stroke-width="1" />
<line x1="196" y1="130.5" x2="233.6" y2="130.5" stroke="#c9c0dc" stroke-width="0.8" />
<line x1="196" y1="154.6" x2="233.6" y2="154.6" stroke="#c4c4e4" stroke-width="0.8" stroke-dasharray="1.2,0.8"/>
<line x1="196" y1="120" x2="196" y2="155.5" stroke="#c8c8e0" stroke-width="0.8" />
<text x="194" y="123.60000000000001" font-size="5.4" fill="#444" text-anchor="end" textLength="8.2" lengthAdjust="spacingAndGlyphs" >4,0M</text>
<line x1="194.8" y1="121.7" x2="196" y2="121.7" stroke="#999" stroke-width="0.5" />
<text x="194" y="132.4" font-size="5.4" fill="#444" text-anchor="end" textLength="8.2" lengthAdjust="spacingAndGlyphs" >3,0M</text>
<line x1="194.8" y1="130.5" x2="196" y2="130.5" stroke="#999" stroke-width="0.5" />
<text x="194" y="141.20000000000002" font-size="5.4" fill="#444" text-anchor="end" textLength="8.2" lengthAdjust="spacingAndGlyphs" >2,0M</text>
<line x1="194.8" y1="139.3" x2="196" y2="139.3" stroke="#999" stroke-width="0.5" />
<text x="194" y="150.0" font-size="5.4" fill="#444" text-anchor="end" textLength="8.2" lengthAdjust="spacingAndGlyphs" >1,0M</text>
<line x1="194.8" y1="148.1" x2="196" y2="148.1" stroke="#999" stroke-width="0.5" />
<text x="194" y="158.8" font-size="5.4" fill="#444" text-anchor="end" >0</text>
<line x1="194.8" y1="156.9" x2="196" y2="156.9" stroke="#999" stroke-width="0.5" />
<g filter="url(#jet)"><rect x="199" y="135.3" width="27.5" height="12.5" rx="3" fill="#000" fill-opacity="0.2"/><rect x="200.4" y="136.70000000000002" width="24.7" height="9.7" rx="2" fill="#000" fill-opacity="0.213"/><ellipse cx="205" cy="142" rx="8" ry="3.6" fill="#000" fill-opacity="0.3"/><ellipse cx="202.8" cy="142.3" rx="3.4" ry="2.6" fill="#000" fill-opacity="0.5"/><ellipse cx="202.6" cy="142.3" rx="1.6" ry="1.3" fill="#000" fill-opacity="0.55"/></g>
<line x1="217" y1="130.5" x2="217" y2="155.5" stroke="#333" stroke-width="0.8" />
<text x="201" y="163.5" font-size="4.9" fill="#444" text-anchor="middle" >-10<tspan font-size="3" dy="-2">4</tspan></text>
<text x="212.3" y="163.5" font-size="4.9" fill="#444" text-anchor="middle" >0</text>
<text x="220.2" y="163.5" font-size="4.9" fill="#444" text-anchor="middle" >10<tspan font-size="3" dy="-2">4</tspan></text>
<text x="228.8" y="163.5" font-size="4.9" fill="#444" text-anchor="middle" >10<tspan font-size="3" dy="-2">5</tspan></text>
<path d="M211,155.5 h2.4 v-0.9 h-2.4z" fill="#111" stroke="none" stroke-width="1" />
<line x1="256.2" y1="130.5" x2="293.8" y2="130.5" stroke="#c9c0dc" stroke-width="0.8" />
<line x1="256.2" y1="154.6" x2="293.8" y2="154.6" stroke="#c4c4e4" stroke-width="0.8" stroke-dasharray="1.2,0.8"/>
<line x1="256.2" y1="120" x2="256.2" y2="155.5" stroke="#c8c8e0" stroke-width="0.8" />
<text x="254.2" y="123.60000000000001" font-size="5.4" fill="#444" text-anchor="end" textLength="8.2" lengthAdjust="spacingAndGlyphs" >4,0M</text>
<line x1="255.0" y1="121.7" x2="256.2" y2="121.7" stroke="#999" stroke-width="0.5" />
<text x="254.2" y="132.4" font-size="5.4" fill="#444" text-anchor="end" textLength="8.2" lengthAdjust="spacingAndGlyphs" >3,0M</text>
<line x1="255.0" y1="130.5" x2="256.2" y2="130.5" stroke="#999" stroke-width="0.5" />
<text x="254.2" y="141.20000000000002" font-size="5.4" fill="#444" text-anchor="end" textLength="8.2" lengthAdjust="spacingAndGlyphs" >2,0M</text>
<line x1="255.0" y1="139.3" x2="256.2" y2="139.3" stroke="#999" stroke-width="0.5" />
<text x="254.2" y="150.0" font-size="5.4" fill="#444" text-anchor="end" textLength="8.2" lengthAdjust="spacingAndGlyphs" >1,0M</text>
<line x1="255.0" y1="148.1" x2="256.2" y2="148.1" stroke="#999" stroke-width="0.5" />
<text x="254.2" y="158.8" font-size="5.4" fill="#444" text-anchor="end" >0</text>
<line x1="255.0" y1="156.9" x2="256.2" y2="156.9" stroke="#999" stroke-width="0.5" />
<g filter="url(#jet)"><rect x="259.59999999999997" y="135" width="29.800000000000004" height="12.8" rx="3" fill="#000" fill-opacity="0.2"/><rect x="260.99999999999994" y="136.4" width="27.000000000000004" height="10.0" rx="2" fill="#000" fill-opacity="0.213"/><ellipse cx="264.2" cy="142.3" rx="4.6" ry="3.8" fill="#000" fill-opacity="0.5"/><ellipse cx="264.0" cy="142.3" rx="2.2" ry="1.9" fill="#000" fill-opacity="0.6"/><ellipse cx="282.7" cy="141.5" rx="5" ry="4" fill="#000" fill-opacity="0.33"/><ellipse cx="272.2" cy="142" rx="5" ry="3" fill="#000" fill-opacity="0.12"/></g>
<line x1="277.2" y1="130.5" x2="277.2" y2="155.5" stroke="#333" stroke-width="0.8" />
<text x="261.2" y="163.5" font-size="4.9" fill="#444" text-anchor="middle" >-10<tspan font-size="3" dy="-2">4</tspan></text>
<text x="272.5" y="163.5" font-size="4.9" fill="#444" text-anchor="middle" >0</text>
<text x="280.4" y="163.5" font-size="4.9" fill="#444" text-anchor="middle" >10<tspan font-size="3" dy="-2">4</tspan></text>
<text x="289.0" y="163.5" font-size="4.9" fill="#444" text-anchor="middle" >10<tspan font-size="3" dy="-2">5</tspan></text>
<path d="M271.2,155.5 h2.4 v-0.9 h-2.4z" fill="#111" stroke="none" stroke-width="1" />
<line x1="196" y1="203.3" x2="233.6" y2="203.3" stroke="#a8a8a8" stroke-width="0.8" />
<line x1="196" y1="227.4" x2="233.6" y2="227.4" stroke="#c4c4e4" stroke-width="0.8" stroke-dasharray="1.2,0.8"/>
<line x1="196" y1="192.8" x2="196" y2="228.3" stroke="#c8c8e0" stroke-width="0.8" />
<text x="194" y="196.4" font-size="5.4" fill="#444" text-anchor="end" textLength="8.2" lengthAdjust="spacingAndGlyphs" >4,0M</text>
<line x1="194.8" y1="194.5" x2="196" y2="194.5" stroke="#999" stroke-width="0.5" />
<text x="194" y="205.20000000000002" font-size="5.4" fill="#444" text-anchor="end" textLength="8.2" lengthAdjust="spacingAndGlyphs" >3,0M</text>
<line x1="194.8" y1="203.3" x2="196" y2="203.3" stroke="#999" stroke-width="0.5" />
<text x="194" y="214.0" font-size="5.4" fill="#444" text-anchor="end" textLength="8.2" lengthAdjust="spacingAndGlyphs" >2,0M</text>
<line x1="194.8" y1="212.1" x2="196" y2="212.1" stroke="#999" stroke-width="0.5" />
<text x="194" y="222.8" font-size="5.4" fill="#444" text-anchor="end" textLength="8.2" lengthAdjust="spacingAndGlyphs" >1,0M</text>
<line x1="194.8" y1="220.9" x2="196" y2="220.9" stroke="#999" stroke-width="0.5" />
<text x="194" y="231.6" font-size="5.4" fill="#444" text-anchor="end" >0</text>
<line x1="194.8" y1="229.7" x2="196" y2="229.7" stroke="#999" stroke-width="0.5" />
<g filter="url(#jet)"><rect x="198.7" y="208.0" width="28.8" height="9.3" rx="3" fill="#000" fill-opacity="0.2"/><rect x="200.1" y="209.4" width="26.0" height="6.500000000000001" rx="2" fill="#000" fill-opacity="0.213"/><ellipse cx="203" cy="212.60000000000002" rx="4" ry="2.8" fill="#000" fill-opacity="0.5"/><ellipse cx="203" cy="212.60000000000002" rx="1.8" ry="1.2" fill="#000" fill-opacity="0.5"/><ellipse cx="221.2" cy="211.60000000000002" rx="4" ry="2.8" fill="#000" fill-opacity="0.5"/><ellipse cx="221.2" cy="211.4" rx="1.8" ry="1.2" fill="#000" fill-opacity="0.5"/><ellipse cx="212.5" cy="212.3" rx="4.5" ry="2.5" fill="#000" fill-opacity="0.45"/></g>
<line x1="217" y1="203.3" x2="217" y2="228.3" stroke="#333" stroke-width="0.8" />
<text x="201" y="236.3" font-size="4.9" fill="#444" text-anchor="middle" >-10<tspan font-size="3" dy="-2">4</tspan></text>
<text x="212.3" y="236.3" font-size="4.9" fill="#444" text-anchor="middle" >0</text>
<text x="220.2" y="236.3" font-size="4.9" fill="#444" text-anchor="middle" >10<tspan font-size="3" dy="-2">4</tspan></text>
<text x="228.8" y="236.3" font-size="4.9" fill="#444" text-anchor="middle" >10<tspan font-size="3" dy="-2">5</tspan></text>
<path d="M211,228.3 h2.4 v-0.9 h-2.4z" fill="#111" stroke="none" stroke-width="1" />
<line x1="256.2" y1="203.3" x2="293.8" y2="203.3" stroke="#a8a8a8" stroke-width="0.8" />
<line x1="256.2" y1="227.4" x2="293.8" y2="227.4" stroke="#c4c4e4" stroke-width="0.8" stroke-dasharray="1.2,0.8"/>
<line x1="256.2" y1="192.8" x2="256.2" y2="228.3" stroke="#c8c8e0" stroke-width="0.8" />
<text x="254.2" y="196.4" font-size="5.4" fill="#444" text-anchor="end" textLength="8.2" lengthAdjust="spacingAndGlyphs" >4,0M</text>
<line x1="255.0" y1="194.5" x2="256.2" y2="194.5" stroke="#999" stroke-width="0.5" />
<text x="254.2" y="205.20000000000002" font-size="5.4" fill="#444" text-anchor="end" textLength="8.2" lengthAdjust="spacingAndGlyphs" >3,0M</text>
<line x1="255.0" y1="203.3" x2="256.2" y2="203.3" stroke="#999" stroke-width="0.5" />
<text x="254.2" y="214.0" font-size="5.4" fill="#444" text-anchor="end" textLength="8.2" lengthAdjust="spacingAndGlyphs" >2,0M</text>
<line x1="255.0" y1="212.1" x2="256.2" y2="212.1" stroke="#999" stroke-width="0.5" />
<text x="254.2" y="222.8" font-size="5.4" fill="#444" text-anchor="end" textLength="8.2" lengthAdjust="spacingAndGlyphs" >1,0M</text>
<line x1="255.0" y1="220.9" x2="256.2" y2="220.9" stroke="#999" stroke-width="0.5" />
<text x="254.2" y="231.6" font-size="5.4" fill="#444" text-anchor="end" >0</text>
<line x1="255.0" y1="229.7" x2="256.2" y2="229.7" stroke="#999" stroke-width="0.5" />
<g filter="url(#jet)"><rect x="277.0" y="207.3" width="15.3" height="13.5" rx="3" fill="#000" fill-opacity="0.2"/><rect x="278.4" y="208.70000000000002" width="12.5" height="10.7" rx="2" fill="#000" fill-opacity="0.163"/><rect x="262.2" y="209.8" width="4" height="6.5" rx="2" fill="#000" fill-opacity="0.2"/><rect x="265.2" y="209.10000000000002" width="5" height="5.199999999999999" rx="2" fill="#000" fill-opacity="0.22"/><rect x="268.7" y="210.3" width="4.5" height="7.0" rx="2" fill="#000" fill-opacity="0.2"/><rect x="271.7" y="208.8" width="6.0" height="7" rx="2" fill="#000" fill-opacity="0.22"/><rect x="263.2" y="211.8" width="14" height="2.5" rx="2" fill="#000" fill-opacity="0.15"/><ellipse cx="288.8" cy="212.8" rx="3" ry="4.5" fill="#000" fill-opacity="0.5"/><ellipse cx="289.0" cy="212.60000000000002" rx="1.3" ry="2.4" fill="#000" fill-opacity="0.55"/><ellipse cx="283.2" cy="213.3" rx="3" ry="4" fill="#000" fill-opacity="0.12"/></g>
<line x1="277.2" y1="203.3" x2="277.2" y2="228.3" stroke="#333" stroke-width="0.8" />
<text x="261.2" y="236.3" font-size="4.9" fill="#444" text-anchor="middle" >-10<tspan font-size="3" dy="-2">4</tspan></text>
<text x="272.5" y="236.3" font-size="4.9" fill="#444" text-anchor="middle" >0</text>
<text x="280.4" y="236.3" font-size="4.9" fill="#444" text-anchor="middle" >10<tspan font-size="3" dy="-2">4</tspan></text>
<text x="289.0" y="236.3" font-size="4.9" fill="#444" text-anchor="middle" >10<tspan font-size="3" dy="-2">5</tspan></text>
<path d="M271.2,228.3 h2.4 v-0.9 h-2.4z" fill="#111" stroke="none" stroke-width="1" />
<line x1="196" y1="252.5" x2="233.6" y2="252.5" stroke="#a8a8a8" stroke-width="0.8" />
<line x1="196" y1="276.6" x2="233.6" y2="276.6" stroke="#c4c4e4" stroke-width="0.8" stroke-dasharray="1.2,0.8"/>
<line x1="196" y1="242" x2="196" y2="277.5" stroke="#c8c8e0" stroke-width="0.8" />
<text x="194" y="245.6" font-size="5.4" fill="#444" text-anchor="end" textLength="8.2" lengthAdjust="spacingAndGlyphs" >4,0M</text>
<line x1="194.8" y1="243.7" x2="196" y2="243.7" stroke="#999" stroke-width="0.5" />
<text x="194" y="254.4" font-size="5.4" fill="#444" text-anchor="end" textLength="8.2" lengthAdjust="spacingAndGlyphs" >3,0M</text>
<line x1="194.8" y1="252.5" x2="196" y2="252.5" stroke="#999" stroke-width="0.5" />
<text x="194" y="263.2" font-size="5.4" fill="#444" text-anchor="end" textLength="8.2" lengthAdjust="spacingAndGlyphs" >2,0M</text>
<line x1="194.8" y1="261.3" x2="196" y2="261.3" stroke="#999" stroke-width="0.5" />
<text x="194" y="271.99999999999994" font-size="5.4" fill="#444" text-anchor="end" textLength="8.2" lengthAdjust="spacingAndGlyphs" >1,0M</text>
<line x1="194.8" y1="270.09999999999997" x2="196" y2="270.09999999999997" stroke="#999" stroke-width="0.5" />
<text x="194" y="280.79999999999995" font-size="5.4" fill="#444" text-anchor="end" >0</text>
<line x1="194.8" y1="278.9" x2="196" y2="278.9" stroke="#999" stroke-width="0.5" />
<g filter="url(#jet)"><rect x="196.8" y="257.5" width="29.7" height="12.2" rx="3" fill="#000" fill-opacity="0.2"/><rect x="198.20000000000002" y="258.9" width="26.9" height="9.399999999999999" rx="2" fill="#000" fill-opacity="0.213"/><ellipse cx="207" cy="263.2" rx="8" ry="3.6" fill="#000" fill-opacity="0.3"/><ellipse cx="204.4" cy="263" rx="4.2" ry="2.6" fill="#000" fill-opacity="0.5"/><ellipse cx="204.4" cy="263" rx="2.4" ry="1.2" fill="#000" fill-opacity="0.55"/></g>
<line x1="217" y1="252.5" x2="217" y2="277.5" stroke="#333" stroke-width="0.8" />
<text x="201" y="285.5" font-size="4.9" fill="#444" text-anchor="middle" >-10<tspan font-size="3" dy="-2">4</tspan></text>
<text x="212.3" y="285.5" font-size="4.9" fill="#444" text-anchor="middle" >0</text>
<text x="220.2" y="285.5" font-size="4.9" fill="#444" text-anchor="middle" >10<tspan font-size="3" dy="-2">4</tspan></text>
<text x="228.8" y="285.5" font-size="4.9" fill="#444" text-anchor="middle" >10<tspan font-size="3" dy="-2">5</tspan></text>
<path d="M211,277.5 h2.4 v-0.9 h-2.4z" fill="#111" stroke="none" stroke-width="1" />
<line x1="256.2" y1="252.5" x2="293.8" y2="252.5" stroke="#a8a8a8" stroke-width="0.8" />
<line x1="256.2" y1="276.6" x2="293.8" y2="276.6" stroke="#c4c4e4" stroke-width="0.8" stroke-dasharray="1.2,0.8"/>
<line x1="256.2" y1="242" x2="256.2" y2="277.5" stroke="#c8c8e0" stroke-width="0.8" />
<text x="254.2" y="245.6" font-size="5.4" fill="#444" text-anchor="end" textLength="8.2" lengthAdjust="spacingAndGlyphs" >4,0M</text>
<line x1="255.0" y1="243.7" x2="256.2" y2="243.7" stroke="#999" stroke-width="0.5" />
<text x="254.2" y="254.4" font-size="5.4" fill="#444" text-anchor="end" textLength="8.2" lengthAdjust="spacingAndGlyphs" >3,0M</text>
<line x1="255.0" y1="252.5" x2="256.2" y2="252.5" stroke="#999" stroke-width="0.5" />
<text x="254.2" y="263.2" font-size="5.4" fill="#444" text-anchor="end" textLength="8.2" lengthAdjust="spacingAndGlyphs" >2,0M</text>
<line x1="255.0" y1="261.3" x2="256.2" y2="261.3" stroke="#999" stroke-width="0.5" />
<text x="254.2" y="271.99999999999994" font-size="5.4" fill="#444" text-anchor="end" textLength="8.2" lengthAdjust="spacingAndGlyphs" >1,0M</text>
<line x1="255.0" y1="270.09999999999997" x2="256.2" y2="270.09999999999997" stroke="#999" stroke-width="0.5" />
<text x="254.2" y="280.79999999999995" font-size="5.4" fill="#444" text-anchor="end" >0</text>
<line x1="255.0" y1="278.9" x2="256.2" y2="278.9" stroke="#999" stroke-width="0.5" />
<g filter="url(#jet)"><rect x="260.59999999999997" y="257.2" width="28.800000000000004" height="11.600000000000001" rx="3" fill="#000" fill-opacity="0.2"/><rect x="261.99999999999994" y="258.59999999999997" width="26.000000000000004" height="8.8" rx="2" fill="#000" fill-opacity="0.213"/><ellipse cx="284.09999999999997" cy="262.2" rx="4.3" ry="4" fill="#000" fill-opacity="0.5"/><ellipse cx="284.09999999999997" cy="262" rx="2" ry="1.9" fill="#000" fill-opacity="0.6"/><ellipse cx="265.7" cy="263.5" rx="4" ry="3" fill="#000" fill-opacity="0.38"/><ellipse cx="274.2" cy="263" rx="5" ry="3" fill="#000" fill-opacity="0.18"/></g>
<line x1="277.2" y1="252.5" x2="277.2" y2="277.5" stroke="#333" stroke-width="0.8" />
<text x="261.2" y="285.5" font-size="4.9" fill="#444" text-anchor="middle" >-10<tspan font-size="3" dy="-2">4</tspan></text>
<text x="272.5" y="285.5" font-size="4.9" fill="#444" text-anchor="middle" >0</text>
<text x="280.4" y="285.5" font-size="4.9" fill="#444" text-anchor="middle" >10<tspan font-size="3" dy="-2">4</tspan></text>
<text x="289.0" y="285.5" font-size="4.9" fill="#444" text-anchor="middle" >10<tspan font-size="3" dy="-2">5</tspan></text>
<path d="M271.2,277.5 h2.4 v-0.9 h-2.4z" fill="#111" stroke="none" stroke-width="1" />
<line x1="199" y1="295.5" x2="213" y2="295.5" stroke="#111" stroke-width="1.1" />
<path d="M216.5,295.5 l-4.5,-2 v4z" fill="#111" stroke="none" stroke-width="1" />
<text x="199" y="306.6" font-size="8.8" fill="#333" text-anchor="start" textLength="23.4" lengthAdjust="spacingAndGlyphs" >CellROX</text>
<text x="373.2" y="54.8" font-size="7" fill="#222" text-anchor="middle" textLength="20.5" lengthAdjust="spacingAndGlyphs" >γH2AX</text>
<text x="424" y="54.8" font-size="7" fill="#222" text-anchor="middle" textLength="24" lengthAdjust="spacingAndGlyphs" >CellROX</text>
<text x="338.6" y="69" font-size="6.8" fill="#333" text-anchor="start" >%</text>
<text x="358.3" y="69" font-size="7" fill="#c20f2f" text-anchor="start" textLength="7.5" lengthAdjust="spacingAndGlyphs" >VF</text>
<text x="368.8" y="69" font-size="7" fill="#2f5f9e" text-anchor="start" textLength="25" lengthAdjust="spacingAndGlyphs" >VF;Dm<tspan font-size="4.5" dy="-3">Δ/Δ</tspan></text>
<text x="407.8" y="69" font-size="7" fill="#c20f2f" text-anchor="start" textLength="7.5" lengthAdjust="spacingAndGlyphs" >VF</text>
<text x="418" y="69" font-size="7" fill="#2f5f9e" text-anchor="start" textLength="26.5" lengthAdjust="spacingAndGlyphs" >VF;Dm<tspan font-size="4.5" dy="-3">Δ/Δ</tspan></text>
<line x1="351.2" y1="76" x2="351.2" y2="160.6" stroke="#1e1e1e" stroke-width="1" />
<line x1="348.7" y1="78.0" x2="351.2" y2="78.0" stroke="#1e1e1e" stroke-width="0.9" />
<text x="347.2" y="80.3" font-size="6.8" fill="#333" text-anchor="end" >100</text>
<line x1="348.7" y1="98.64999999999999" x2="351.2" y2="98.64999999999999" stroke="#1e1e1e" stroke-width="0.9" />
<text x="347.2" y="100.94999999999999" font-size="6.8" fill="#333" text-anchor="end" >75</text>
<line x1="348.7" y1="119.3" x2="351.2" y2="119.3" stroke="#1e1e1e" stroke-width="0.9" />
<text x="347.2" y="121.6" font-size="6.8" fill="#333" text-anchor="end" >50</text>
<line x1="348.7" y1="139.95" x2="351.2" y2="139.95" stroke="#1e1e1e" stroke-width="0.9" />
<text x="347.2" y="142.25" font-size="6.8" fill="#333" text-anchor="end" >25</text>
<line x1="348.7" y1="160.6" x2="351.2" y2="160.6" stroke="#1e1e1e" stroke-width="0.9" />
<text x="347.2" y="162.9" font-size="6.8" fill="#333" text-anchor="end" >0</text>
<line x1="351.2" y1="160.6" x2="440" y2="160.6" stroke="#1e1e1e" stroke-width="1.1" />
<rect x="359.34999999999997" y="158.90239999999997" width="3.3000000000000003" height="1.6976000000000113" fill="#fff" stroke="#c20f2f" stroke-width="0.9" />
<line x1="361" y1="160.6" x2="361" y2="163.1" stroke="#1e1e1e" stroke-width="0.9" />
<line x1="367.2" y1="144.906" x2="367.2" y2="140.776" stroke="#c20f2f" stroke-width="0.8" />
<line x1="365.9" y1="140.776" x2="368.5" y2="140.776" stroke="#c20f2f" stroke-width="0.8" />
<rect x="365.09999999999997" y="144.906" width="4.2" height="15.693999999999988" fill="#c20f2f" stroke="none" stroke-width="1" />
<line x1="367.2" y1="160.6" x2="367.2" y2="163.1" stroke="#1e1e1e" stroke-width="0.9" />
<line x1="378.3" y1="158.12199999999999" x2="378.3" y2="155.644" stroke="#12498a" stroke-width="0.8" />
<line x1="377.0" y1="155.644" x2="379.6" y2="155.644" stroke="#12498a" stroke-width="0.8" />
<rect x="376.65" y="158.57199999999997" width="3.3000000000000003" height="2.0280000000000085" fill="#fff" stroke="#12498a" stroke-width="0.9" />
<line x1="378.3" y1="160.6" x2="378.3" y2="163.1" stroke="#1e1e1e" stroke-width="0.9" />
<line x1="385.2" y1="157.296" x2="385.2" y2="156.47" stroke="#12498a" stroke-width="0.8" />
<line x1="383.9" y1="156.47" x2="386.5" y2="156.47" stroke="#12498a" stroke-width="0.8" />
<rect x="383.09999999999997" y="157.296" width="4.2" height="3.304000000000002" fill="#12498a" stroke="none" stroke-width="1" />
<line x1="385.2" y1="160.6" x2="385.2" y2="163.1" stroke="#1e1e1e" stroke-width="0.9" />
<line x1="408.8" y1="139.124" x2="408.8" y2="137.472" stroke="#c20f2f" stroke-width="0.8" />
<line x1="407.5" y1="137.472" x2="410.1" y2="137.472" stroke="#c20f2f" stroke-width="0.8" />
<rect x="407.15" y="139.57399999999998" width="3.3000000000000003" height="21.026" fill="#fff" stroke="#c20f2f" stroke-width="0.9" />
<line x1="408.8" y1="160.6" x2="408.8" y2="163.1" stroke="#1e1e1e" stroke-width="0.9" />
<line x1="415.4" y1="120.126" x2="415.4" y2="118.061" stroke="#c20f2f" stroke-width="0.8" />
<line x1="414.09999999999997" y1="118.061" x2="416.7" y2="118.061" stroke="#c20f2f" stroke-width="0.8" />
<rect x="413.29999999999995" y="120.126" width="4.2" height="40.47399999999999" fill="#c20f2f" stroke="none" stroke-width="1" />
<line x1="415.4" y1="160.6" x2="415.4" y2="163.1" stroke="#1e1e1e" stroke-width="0.9" />
<line x1="426.3" y1="144.07999999999998" x2="426.3" y2="142.841" stroke="#12498a" stroke-width="0.8" />
<line x1="425.0" y1="142.841" x2="427.6" y2="142.841" stroke="#12498a" stroke-width="0.8" />
<rect x="424.65" y="144.52999999999997" width="3.3000000000000003" height="16.07000000000001" fill="#fff" stroke="#12498a" stroke-width="0.9" />
<line x1="426.3" y1="160.6" x2="426.3" y2="163.1" stroke="#1e1e1e" stroke-width="0.9" />
<line x1="432.6" y1="132.516" x2="432.6" y2="131.277" stroke="#12498a" stroke-width="0.8" />
<line x1="431.3" y1="131.277" x2="433.90000000000003" y2="131.277" stroke="#12498a" stroke-width="0.8" />
<rect x="430.5" y="132.516" width="4.2" height="28.084000000000003" fill="#12498a" stroke="none" stroke-width="1" />
<line x1="432.6" y1="160.6" x2="432.6" y2="163.1" stroke="#1e1e1e" stroke-width="0.9" />
<text x="361" y="171.79999999999998" font-size="7" fill="#333" text-anchor="middle" >V</text>
<text x="366.9" y="171.79999999999998" font-size="7" fill="#f1b250" text-anchor="middle" >IF</text>
<text x="378.3" y="171.79999999999998" font-size="7" fill="#333" text-anchor="middle" >V</text>
<text x="384.9" y="171.79999999999998" font-size="7" fill="#f1b250" text-anchor="middle" >IF</text>
<text x="408.8" y="171.79999999999998" font-size="7" fill="#333" text-anchor="middle" >V</text>
<text x="415.09999999999997" y="171.79999999999998" font-size="7" fill="#f1b250" text-anchor="middle" >IF</text>
<text x="426.3" y="171.79999999999998" font-size="7" fill="#333" text-anchor="middle" >V</text>
<text x="432.3" y="171.79999999999998" font-size="7" fill="#f1b250" text-anchor="middle" >IF</text>
<text transform="translate(331,117.5) rotate(-90)" font-size="8.8" fill="#333" text-anchor="middle" textLength="39" lengthAdjust="spacingAndGlyphs" >Bone marrow</text>
<text x="364" y="107.89999999999999" font-size="7.475" fill="#c20f2f" text-anchor="middle" textLength="7.85" lengthAdjust="spacingAndGlyphs" >***</text>
<path d="M361,110.5V108.2H367.2V110.5" fill="none" stroke="#1e1e1e" stroke-width="0.9" />
<text x="376.2" y="91.6" font-size="7.475" fill="#1e1e1e" text-anchor="middle" textLength="5.1" lengthAdjust="spacingAndGlyphs" >**</text>
<path d="M367.2,94.7V92.2H385.2V94.7" fill="none" stroke="#1e1e1e" stroke-width="0.9" />
<text x="412" y="106.8" font-size="7.475" fill="#c20f2f" text-anchor="middle" textLength="10.6" lengthAdjust="spacingAndGlyphs" >****</text>
<path d="M408.8,109.3V107H415.4V109.3" fill="none" stroke="#1e1e1e" stroke-width="0.9" />
<text x="429.5" y="106.8" font-size="7.475" fill="#12498a" text-anchor="middle" textLength="5.1" lengthAdjust="spacingAndGlyphs" >**</text>
<path d="M426.3,109.3V107H432.6V109.3" fill="none" stroke="#1e1e1e" stroke-width="0.9" />
<text x="424.5" y="91.8" font-size="7.475" fill="#1e1e1e" text-anchor="middle" textLength="5.1" lengthAdjust="spacingAndGlyphs" >**</text>
<path d="M415.4,94.9V92.4H432.6V94.9" fill="none" stroke="#1e1e1e" stroke-width="0.9" />
<line x1="351.2" y1="207.2" x2="351.2" y2="291.4" stroke="#1e1e1e" stroke-width="1" />
<line x1="348.7" y1="209.2" x2="351.2" y2="209.2" stroke="#1e1e1e" stroke-width="0.9" />
<text x="347.2" y="211.5" font-size="6.8" fill="#333" text-anchor="end" >100</text>
<line x1="348.7" y1="229.75" x2="351.2" y2="229.75" stroke="#1e1e1e" stroke-width="0.9" />
<text x="347.2" y="232.05" font-size="6.8" fill="#333" text-anchor="end" >75</text>
<line x1="348.7" y1="250.29999999999998" x2="351.2" y2="250.29999999999998" stroke="#1e1e1e" stroke-width="0.9" />
<text x="347.2" y="252.6" font-size="6.8" fill="#333" text-anchor="end" >50</text>
<line x1="348.7" y1="270.84999999999997" x2="351.2" y2="270.84999999999997" stroke="#1e1e1e" stroke-width="0.9" />
<text x="347.2" y="273.15" font-size="6.8" fill="#333" text-anchor="end" >25</text>
<line x1="348.7" y1="291.4" x2="351.2" y2="291.4" stroke="#1e1e1e" stroke-width="0.9" />
<text x="347.2" y="293.7" font-size="6.8" fill="#333" text-anchor="end" >0</text>
<line x1="351.2" y1="291.4" x2="440" y2="291.4" stroke="#1e1e1e" stroke-width="1.1" />
<line x1="361" y1="274.138" x2="361" y2="270.02799999999996" stroke="#c20f2f" stroke-width="0.8" />
<line x1="359.7" y1="270.02799999999996" x2="362.3" y2="270.02799999999996" stroke="#c20f2f" stroke-width="0.8" />
<rect x="359.34999999999997" y="274.58799999999997" width="3.3000000000000003" height="16.812" fill="#fff" stroke="#c20f2f" stroke-width="0.9" />
<line x1="361" y1="291.4" x2="361" y2="293.9" stroke="#1e1e1e" stroke-width="0.9" />
<line x1="367.2" y1="255.23199999999997" x2="367.2" y2="250.29999999999998" stroke="#c20f2f" stroke-width="0.8" />
<line x1="365.9" y1="250.29999999999998" x2="368.5" y2="250.29999999999998" stroke="#c20f2f" stroke-width="0.8" />
<rect x="365.09999999999997" y="255.23199999999997" width="4.2" height="36.168000000000006" fill="#c20f2f" stroke="none" stroke-width="1" />
<line x1="367.2" y1="291.4" x2="367.2" y2="293.9" stroke="#1e1e1e" stroke-width="0.9" />
<line x1="378.3" y1="283.17999999999995" x2="378.3" y2="282.358" stroke="#12498a" stroke-width="0.8" />
<line x1="377.0" y1="282.358" x2="379.6" y2="282.358" stroke="#12498a" stroke-width="0.8" />
<rect x="376.65" y="283.62999999999994" width="3.3000000000000003" height="7.770000000000027" fill="#fff" stroke="#12498a" stroke-width="0.9" />
<line x1="378.3" y1="291.4" x2="378.3" y2="293.9" stroke="#1e1e1e" stroke-width="0.9" />
<line x1="385.2" y1="276.604" x2="385.2" y2="274.138" stroke="#12498a" stroke-width="0.8" />
<line x1="383.9" y1="274.138" x2="386.5" y2="274.138" stroke="#12498a" stroke-width="0.8" />
<rect x="383.09999999999997" y="276.604" width="4.2" height="14.795999999999992" fill="#12498a" stroke="none" stroke-width="1" />
<line x1="385.2" y1="291.4" x2="385.2" y2="293.9" stroke="#1e1e1e" stroke-width="0.9" />
<line x1="408.8" y1="266.74" x2="408.8" y2="262.63" stroke="#c20f2f" stroke-width="0.8" />
<line x1="407.5" y1="262.63" x2="410.1" y2="262.63" stroke="#c20f2f" stroke-width="0.8" />
<rect x="407.15" y="267.19" width="3.3000000000000003" height="24.20999999999997" fill="#fff" stroke="#c20f2f" stroke-width="0.9" />
<line x1="408.8" y1="291.4" x2="408.8" y2="293.9" stroke="#1e1e1e" stroke-width="0.9" />
<line x1="415.4" y1="224.81799999999998" x2="415.4" y2="220.70799999999997" stroke="#c20f2f" stroke-width="0.8" />
<line x1="414.09999999999997" y1="220.70799999999997" x2="416.7" y2="220.70799999999997" stroke="#c20f2f" stroke-width="0.8" />
<rect x="413.29999999999995" y="224.81799999999998" width="4.2" height="66.582" fill="#c20f2f" stroke="none" stroke-width="1" />
<line x1="415.4" y1="291.4" x2="415.4" y2="293.9" stroke="#1e1e1e" stroke-width="0.9" />
<line x1="426.3" y1="274.96" x2="426.3" y2="274.138" stroke="#12498a" stroke-width="0.8" />
<line x1="425.0" y1="274.138" x2="427.6" y2="274.138" stroke="#12498a" stroke-width="0.8" />
<rect x="424.65" y="275.40999999999997" width="3.3000000000000003" height="15.989999999999998" fill="#fff" stroke="#12498a" stroke-width="0.9" />
<line x1="426.3" y1="291.4" x2="426.3" y2="293.9" stroke="#1e1e1e" stroke-width="0.9" />
<line x1="432.6" y1="240.43599999999998" x2="432.6" y2="236.32599999999996" stroke="#12498a" stroke-width="0.8" />
<line x1="431.3" y1="236.32599999999996" x2="433.90000000000003" y2="236.32599999999996" stroke="#12498a" stroke-width="0.8" />
<rect x="430.5" y="240.43599999999998" width="4.2" height="50.964" fill="#12498a" stroke="none" stroke-width="1" />
<line x1="432.6" y1="291.4" x2="432.6" y2="293.9" stroke="#1e1e1e" stroke-width="0.9" />
<text x="361" y="302.59999999999997" font-size="7" fill="#333" text-anchor="middle" >V</text>
<text x="366.9" y="302.59999999999997" font-size="7" fill="#f1b250" text-anchor="middle" >IF</text>
<text x="378.3" y="302.59999999999997" font-size="7" fill="#333" text-anchor="middle" >V</text>
<text x="384.9" y="302.59999999999997" font-size="7" fill="#f1b250" text-anchor="middle" >IF</text>
<text x="408.8" y="302.59999999999997" font-size="7" fill="#333" text-anchor="middle" >V</text>
<text x="415.09999999999997" y="302.59999999999997" font-size="7" fill="#f1b250" text-anchor="middle" >IF</text>
<text x="426.3" y="302.59999999999997" font-size="7" fill="#333" text-anchor="middle" >V</text>
<text x="432.3" y="302.59999999999997" font-size="7" fill="#f1b250" text-anchor="middle" >IF</text>
<text transform="translate(331,248.6) rotate(-90)" font-size="8.8" fill="#333" text-anchor="middle" textLength="20" lengthAdjust="spacingAndGlyphs" >Spleen</text>
<text x="364" y="234.9" font-size="7.475" fill="#c20f2f" text-anchor="middle" textLength="5.1" lengthAdjust="spacingAndGlyphs" >**</text>
<path d="M361,237.3V235H367.2V237.3" fill="none" stroke="#1e1e1e" stroke-width="0.9" />
<text x="376.2" y="226.9" font-size="7.475" fill="#1e1e1e" text-anchor="middle" textLength="5.1" lengthAdjust="spacingAndGlyphs" >**</text>
<path d="M367.2,229.5V227H385.2V229.5" fill="none" stroke="#1e1e1e" stroke-width="0.9" />
<text x="412" y="216.79999999999998" font-size="7.475" fill="#c20f2f" text-anchor="middle" textLength="10.6" lengthAdjust="spacingAndGlyphs" >****</text>
<path d="M408.8,219.60000000000002V217.3H415.4V219.60000000000002" fill="none" stroke="#1e1e1e" stroke-width="0.9" />
<text x="429.5" y="216.79999999999998" font-size="7.475" fill="#12498a" text-anchor="middle" textLength="10.6" lengthAdjust="spacingAndGlyphs" >****</text>
<path d="M426.3,219.60000000000002V217.3H432.6V219.60000000000002" fill="none" stroke="#1e1e1e" stroke-width="0.9" />
<text x="424" y="208.4" font-size="7.475" fill="#1e1e1e" text-anchor="middle" textLength="5.1" lengthAdjust="spacingAndGlyphs" >**</text>
<path d="M415.4,211.1V208.6H432.6V211.1" fill="none" stroke="#1e1e1e" stroke-width="0.9" />
<text x="117" y="369.5" font-size="7.6" fill="#333" text-anchor="middle" >V</text>
<text x="181.3" y="369.5" font-size="7" fill="#f1aa3c" text-anchor="middle" textLength="9.5" lengthAdjust="spacingAndGlyphs" >IFN</text>
<rect x="88.3" y="373.5" width="58.4" height="57.4" fill="#fff" stroke="none" stroke-width="1" />
<g filter="url(#jet)"><path d="M104,396 L116,396 L124,395 L129,392.5 L130,396 L122,400.5 L115,404.5 L109,410 L104,415 Z" fill="#000" fill-opacity="0.25"/><path d="M95.2,398.4 C95.2,394.6 105.8,394.6 105.8,398.4 L105.0,412.6 C104.3,417.6 100.7,420.6 99.7,420.6 C98.2,419.6 95.4,412.6 95.2,398.4 Z" fill="#000" fill-opacity="0.3"/><ellipse cx="101.1" cy="406.7" rx="4.6" ry="10" fill="#000" fill-opacity="0.16"/><ellipse cx="101.0" cy="405.7" rx="3.6" ry="7.5" fill="#000" fill-opacity="0.16"/><ellipse cx="100.8" cy="404.7" rx="2.7" ry="5" fill="#000" fill-opacity="0.3"/><ellipse cx="100.8" cy="404.2" rx="1.7" ry="2.7" fill="#000" fill-opacity="0.6"/></g>
<rect x="125.2" y="394.4" width="1.1" height="1.1" fill="#15152a" fill-opacity="0.85"/>
<rect x="132.8" y="391.6" width="1.1" height="1.1" fill="#15152a" fill-opacity="0.85"/>
<rect x="126.1" y="394.6" width="1.1" height="1.1" fill="#15152a" fill-opacity="0.85"/>
<rect x="121.0" y="394.6" width="1.1" height="1.1" fill="#15152a" fill-opacity="0.85"/>
<rect x="128.1" y="397.1" width="1.1" height="1.1" fill="#15152a" fill-opacity="0.85"/>
<rect x="119.5" y="391.9" width="1.1" height="1.1" fill="#15152a" fill-opacity="0.85"/>
<rect x="119.5" y="399.0" width="1.1" height="1.1" fill="#15152a" fill-opacity="0.85"/>
<rect x="129.1" y="386.4" width="1.1" height="1.1" fill="#15152a" fill-opacity="0.85"/>
<rect x="133.7" y="398.4" width="1.1" height="1.1" fill="#15152a" fill-opacity="0.85"/>
<rect x="128.5" y="394.5" width="1.1" height="1.1" fill="#15152a" fill-opacity="0.85"/>
<rect x="120.5" y="387.7" width="1.1" height="1.1" fill="#15152a" fill-opacity="0.85"/>
<rect x="126.5" y="387.1" width="1.1" height="1.1" fill="#15152a" fill-opacity="0.85"/>
<rect x="121.0" y="390.8" width="1.1" height="1.1" fill="#15152a" fill-opacity="0.85"/>
<rect x="118.5" y="394.4" width="1.1" height="1.1" fill="#15152a" fill-opacity="0.85"/>
<rect x="125.0" y="398.4" width="1.1" height="1.1" fill="#15152a" fill-opacity="0.85"/>
<rect x="126.3" y="395.3" width="1.1" height="1.1" fill="#15152a" fill-opacity="0.85"/>
<rect x="126.0" y="395.7" width="1.1" height="1.1" fill="#15152a" fill-opacity="0.85"/>
<rect x="125.3" y="390.4" width="1.1" height="1.1" fill="#15152a" fill-opacity="0.85"/>
<rect x="134.0" y="398.7" width="1.1" height="1.1" fill="#15152a" fill-opacity="0.85"/>
<rect x="131.4" y="395.2" width="1.1" height="1.1" fill="#15152a" fill-opacity="0.85"/>
<rect x="123.0" y="390.2" width="1.1" height="1.1" fill="#15152a" fill-opacity="0.85"/>
<rect x="122.6" y="388.1" width="1.1" height="1.1" fill="#15152a" fill-opacity="0.85"/>
<rect x="130.3" y="391.2" width="1.1" height="1.1" fill="#15152a" fill-opacity="0.85"/>
<rect x="131.5" y="390.7" width="1.1" height="1.1" fill="#15152a" fill-opacity="0.85"/>
<rect x="133.3" y="396.8" width="1.1" height="1.1" fill="#15152a" fill-opacity="0.85"/>
<rect x="118.0" y="390.9" width="1.1" height="1.1" fill="#15152a" fill-opacity="0.85"/>
<rect x="132.6" y="391.7" width="1.1" height="1.1" fill="#15152a" fill-opacity="0.85"/>
<rect x="133.7" y="390.4" width="1.1" height="1.1" fill="#15152a" fill-opacity="0.85"/>
<rect x="119.2" y="396.6" width="1.1" height="1.1" fill="#15152a" fill-opacity="0.85"/>
<rect x="130.5" y="389.3" width="1.1" height="1.1" fill="#15152a" fill-opacity="0.85"/>
<line x1="103.5" y1="373.5" x2="103.5" y2="430.9" stroke="#555" stroke-width="1" />
<line x1="88.3" y1="397.8" x2="146.7" y2="397.8" stroke="#555" stroke-width="1" />
<rect x="88.3" y="373.5" width="58.4" height="57.4" fill="none" stroke="#6a6a6a" stroke-width="0.9" />
<line x1="87.1" y1="384.98" x2="88.3" y2="384.98" stroke="#666" stroke-width="0.5" />
<line x1="87.1" y1="396.46" x2="88.3" y2="396.46" stroke="#666" stroke-width="0.5" />
<line x1="87.1" y1="407.94" x2="88.3" y2="407.94" stroke="#666" stroke-width="0.5" />
<line x1="87.1" y1="419.42" x2="88.3" y2="419.42" stroke="#666" stroke-width="0.5" />
<path d="M86.5,405.5 h1.8 v2.2 h-1.8z" fill="#222" stroke="none" stroke-width="1" />
<path d="M108.3,430.9 h2.5 v0.9 h-2.5z" fill="#222" stroke="none" stroke-width="1" />
<rect x="152.3" y="373.5" width="58.4" height="57.4" fill="#fff" stroke="none" stroke-width="1" />
<g filter="url(#jet)"><path d="M170,395 L184,393.5 L187,389.5 L191.5,388.5 L192,396 L186,400 L178,406 L172,414 Z" fill="#000" fill-opacity="0.25"/><path d="M160.5,397.8 C160.5,394.0 171.5,394.0 171.5,397.8 L170.7,412.0 C170.0,417.0 166.2,420.0 165.2,420.0 C163.7,419.0 160.7,412.0 160.5,397.8 Z" fill="#000" fill-opacity="0.3"/><ellipse cx="166.70000000000002" cy="407.1" rx="4.6" ry="10" fill="#000" fill-opacity="0.16"/><ellipse cx="166.6" cy="406.1" rx="3.6" ry="7.5" fill="#000" fill-opacity="0.16"/><ellipse cx="166.4" cy="405.1" rx="2.7" ry="5" fill="#000" fill-opacity="0.3"/><ellipse cx="166.4" cy="404.6" rx="1.7" ry="2.7" fill="#000" fill-opacity="0.6"/></g>
<rect x="179.9" y="394.1" width="1.1" height="1.1" fill="#15152a" fill-opacity="0.85"/>
<rect x="199.2" y="396.8" width="1.1" height="1.1" fill="#15152a" fill-opacity="0.85"/>
<rect x="180.6" y="392.1" width="1.1" height="1.1" fill="#15152a" fill-opacity="0.85"/>
<rect x="180.2" y="388.5" width="1.1" height="1.1" fill="#15152a" fill-opacity="0.85"/>
<rect x="195.5" y="386.3" width="1.1" height="1.1" fill="#15152a" fill-opacity="0.85"/>
<rect x="190.3" y="393.3" width="1.1" height="1.1" fill="#15152a" fill-opacity="0.85"/>
<rect x="182.2" y="401.4" width="1.1" height="1.1" fill="#15152a" fill-opacity="0.85"/>
<rect x="180.9" y="400.0" width="1.1" height="1.1" fill="#15152a" fill-opacity="0.85"/>
<rect x="180.6" y="395.6" width="1.1" height="1.1" fill="#15152a" fill-opacity="0.85"/>
<rect x="182.7" y="392.0" width="1.1" height="1.1" fill="#15152a" fill-opacity="0.85"/>
<rect x="199.4" y="397.7" width="1.1" height="1.1" fill="#15152a" fill-opacity="0.85"/>
<rect x="184.7" y="403.7" width="1.1" height="1.1" fill="#15152a" fill-opacity="0.85"/>
<rect x="182.6" y="394.5" width="1.1" height="1.1" fill="#15152a" fill-opacity="0.85"/>
<rect x="196.8" y="395.2" width="1.1" height="1.1" fill="#15152a" fill-opacity="0.85"/>
<rect x="180.2" y="407.1" width="1.1" height="1.1" fill="#15152a" fill-opacity="0.85"/>
<rect x="182.7" y="391.8" width="1.1" height="1.1" fill="#15152a" fill-opacity="0.85"/>
<rect x="195.0" y="389.5" width="1.1" height="1.1" fill="#15152a" fill-opacity="0.85"/>
<rect x="184.5" y="387.5" width="1.1" height="1.1" fill="#15152a" fill-opacity="0.85"/>
<rect x="180.0" y="399.1" width="1.1" height="1.1" fill="#15152a" fill-opacity="0.85"/>
<rect x="183.3" y="398.4" width="1.1" height="1.1" fill="#15152a" fill-opacity="0.85"/>
<rect x="186.2" y="394.6" width="1.1" height="1.1" fill="#15152a" fill-opacity="0.85"/>
<rect x="199.1" y="391.3" width="1.1" height="1.1" fill="#15152a" fill-opacity="0.85"/>
<rect x="190.6" y="401.5" width="1.1" height="1.1" fill="#15152a" fill-opacity="0.85"/>
<rect x="182.0" y="389.9" width="1.1" height="1.1" fill="#15152a" fill-opacity="0.85"/>
<rect x="198.0" y="398.4" width="1.1" height="1.1" fill="#15152a" fill-opacity="0.85"/>
<rect x="183.5" y="390.1" width="1.1" height="1.1" fill="#15152a" fill-opacity="0.85"/>
<rect x="194.3" y="401.9" width="1.1" height="1.1" fill="#15152a" fill-opacity="0.85"/>
<rect x="182.3" y="405.7" width="1.1" height="1.1" fill="#15152a" fill-opacity="0.85"/>
<rect x="197.4" y="394.2" width="1.1" height="1.1" fill="#15152a" fill-opacity="0.85"/>
<rect x="187.3" y="387.3" width="1.1" height="1.1" fill="#15152a" fill-opacity="0.85"/>
<line x1="167.5" y1="373.5" x2="167.5" y2="430.9" stroke="#555" stroke-width="1" />
<line x1="152.3" y1="397.8" x2="210.70000000000002" y2="397.8" stroke="#555" stroke-width="1" />
<rect x="152.3" y="373.5" width="58.4" height="57.4" fill="none" stroke="#6a6a6a" stroke-width="0.9" />
<line x1="151.10000000000002" y1="384.98" x2="152.3" y2="384.98" stroke="#666" stroke-width="0.5" />
<line x1="151.10000000000002" y1="396.46" x2="152.3" y2="396.46" stroke="#666" stroke-width="0.5" />
<line x1="151.10000000000002" y1="407.94" x2="152.3" y2="407.94" stroke="#666" stroke-width="0.5" />
<line x1="151.10000000000002" y1="419.42" x2="152.3" y2="419.42" stroke="#666" stroke-width="0.5" />
<path d="M150.5,405.5 h1.8 v2.2 h-1.8z" fill="#222" stroke="none" stroke-width="1" />
<path d="M172.3,430.9 h2.5 v0.9 h-2.5z" fill="#222" stroke="none" stroke-width="1" />
<rect x="88.3" y="436.8" width="58.4" height="57.4" fill="#fff" stroke="none" stroke-width="1" />
<g filter="url(#jet)"><path d="M105,460 L110,460.5 L110,470 L105,474 Z" fill="#000" fill-opacity="0.25"/><path d="M96.7,462.2 C96.7,458.4 106.3,458.4 106.3,462.2 L105.5,476.5 C104.8,481.5 101.7,484.5 100.7,484.5 C99.2,483.5 96.9,476.5 96.7,462.2 Z" fill="#000" fill-opacity="0.3"/><ellipse cx="102.1" cy="471.0" rx="4.6" ry="10" fill="#000" fill-opacity="0.16"/><ellipse cx="102.0" cy="470.0" rx="3.6" ry="7.5" fill="#000" fill-opacity="0.16"/><ellipse cx="101.8" cy="469.0" rx="2.7" ry="5" fill="#000" fill-opacity="0.3"/><ellipse cx="101.8" cy="468.5" rx="1.7" ry="2.7" fill="#000" fill-opacity="0.6"/></g>
<rect x="105.9" y="470.4" width="1.1" height="1.1" fill="#15152a" fill-opacity="0.85"/>
<rect x="110.5" y="466.8" width="1.1" height="1.1" fill="#15152a" fill-opacity="0.85"/>
<rect x="110.9" y="468.2" width="1.1" height="1.1" fill="#15152a" fill-opacity="0.85"/>
<rect x="118.7" y="460.9" width="1.1" height="1.1" fill="#15152a" fill-opacity="0.85"/>
<rect x="109.0" y="467.2" width="1.1" height="1.1" fill="#15152a" fill-opacity="0.85"/>
<rect x="106.6" y="461.6" width="1.1" height="1.1" fill="#15152a" fill-opacity="0.85"/>
<rect x="117.9" y="467.7" width="1.1" height="1.1" fill="#15152a" fill-opacity="0.85"/>
<rect x="119.1" y="460.7" width="1.1" height="1.1" fill="#15152a" fill-opacity="0.85"/>
<rect x="126.1" y="458.9" width="1.1" height="1.1" fill="#15152a" fill-opacity="0.85"/>
<rect x="105.4" y="462.2" width="1.1" height="1.1" fill="#15152a" fill-opacity="0.85"/>
<rect x="115.3" y="458.5" width="1.1" height="1.1" fill="#15152a" fill-opacity="0.85"/>
<rect x="109.1" y="462.9" width="1.1" height="1.1" fill="#15152a" fill-opacity="0.85"/>
<rect x="118.2" y="459.0" width="1.1" height="1.1" fill="#15152a" fill-opacity="0.85"/>
<rect x="113.3" y="468.7" width="1.1" height="1.1" fill="#15152a" fill-opacity="0.85"/>
<rect x="127.6" y="464.2" width="1.1" height="1.1" fill="#15152a" fill-opacity="0.85"/>
<rect x="120.9" y="464.1" width="1.1" height="1.1" fill="#15152a" fill-opacity="0.85"/>
<rect x="108.2" y="459.0" width="1.1" height="1.1" fill="#15152a" fill-opacity="0.85"/>
<rect x="105.4" y="469.9" width="1.1" height="1.1" fill="#15152a" fill-opacity="0.85"/>
<rect x="121.1" y="468.6" width="1.1" height="1.1" fill="#15152a" fill-opacity="0.85"/>
<rect x="105.5" y="466.6" width="1.1" height="1.1" fill="#15152a" fill-opacity="0.85"/>
<rect x="116.1" y="466.4" width="1.1" height="1.1" fill="#15152a" fill-opacity="0.85"/>
<rect x="112.3" y="470.1" width="1.1" height="1.1" fill="#15152a" fill-opacity="0.85"/>
<rect x="106.7" y="465.3" width="1.1" height="1.1" fill="#15152a" fill-opacity="0.85"/>
<rect x="122.0" y="467.8" width="1.1" height="1.1" fill="#15152a" fill-opacity="0.85"/>
<rect x="122.0" y="465.4" width="1.1" height="1.1" fill="#15152a" fill-opacity="0.85"/>
<rect x="123.2" y="467.8" width="1.1" height="1.1" fill="#15152a" fill-opacity="0.85"/>
<rect x="113.1" y="466.3" width="1.1" height="1.1" fill="#15152a" fill-opacity="0.85"/>
<rect x="125.7" y="467.0" width="1.1" height="1.1" fill="#15152a" fill-opacity="0.85"/>
<rect x="114.6" y="467.3" width="1.1" height="1.1" fill="#15152a" fill-opacity="0.85"/>
<rect x="124.9" y="463.5" width="1.1" height="1.1" fill="#15152a" fill-opacity="0.85"/>
<rect x="119.4" y="461.9" width="1.1" height="1.1" fill="#15152a" fill-opacity="0.85"/>
<rect x="118.4" y="464.7" width="1.1" height="1.1" fill="#15152a" fill-opacity="0.85"/>
<rect x="106.8" y="466.5" width="1.1" height="1.1" fill="#15152a" fill-opacity="0.85"/>
<rect x="127.8" y="466.8" width="1.1" height="1.1" fill="#15152a" fill-opacity="0.85"/>
<rect x="121.7" y="461.7" width="1.1" height="1.1" fill="#15152a" fill-opacity="0.85"/>
<rect x="121.9" y="463.9" width="1.1" height="1.1" fill="#15152a" fill-opacity="0.85"/>
<rect x="115.1" y="467.8" width="1.1" height="1.1" fill="#15152a" fill-opacity="0.85"/>
<rect x="106.9" y="467.8" width="1.1" height="1.1" fill="#15152a" fill-opacity="0.85"/>
<rect x="105.7" y="466.1" width="1.1" height="1.1" fill="#15152a" fill-opacity="0.85"/>
<rect x="116.1" y="460.4" width="1.1" height="1.1" fill="#15152a" fill-opacity="0.85"/>
<rect x="121.1" y="463.0" width="1.1" height="1.1" fill="#15152a" fill-opacity="0.85"/>
<rect x="119.1" y="468.3" width="1.1" height="1.1" fill="#15152a" fill-opacity="0.85"/>
<rect x="110.9" y="458.4" width="1.1" height="1.1" fill="#15152a" fill-opacity="0.85"/>
<rect x="111.9" y="466.3" width="1.1" height="1.1" fill="#15152a" fill-opacity="0.85"/>
<rect x="109.7" y="460.5" width="1.1" height="1.1" fill="#15152a" fill-opacity="0.85"/>
<rect x="125.8" y="464.4" width="1.1" height="1.1" fill="#15152a" fill-opacity="0.85"/>
<rect x="115.2" y="468.5" width="1.1" height="1.1" fill="#15152a" fill-opacity="0.85"/>
<rect x="112.5" y="466.1" width="1.1" height="1.1" fill="#15152a" fill-opacity="0.85"/>
<rect x="109.6" y="463.6" width="1.1" height="1.1" fill="#15152a" fill-opacity="0.85"/>
<rect x="123.5" y="467.7" width="1.1" height="1.1" fill="#15152a" fill-opacity="0.85"/>
<rect x="125.2" y="461.2" width="1.1" height="1.1" fill="#15152a" fill-opacity="0.85"/>
<rect x="118.4" y="461.2" width="1.1" height="1.1" fill="#15152a" fill-opacity="0.85"/>
<rect x="108.1" y="464.6" width="1.1" height="1.1" fill="#15152a" fill-opacity="0.85"/>
<rect x="124.3" y="466.9" width="1.1" height="1.1" fill="#15152a" fill-opacity="0.85"/>
<rect x="121.4" y="468.4" width="1.1" height="1.1" fill="#15152a" fill-opacity="0.85"/>
<rect x="111.4" y="460.3" width="1.1" height="1.1" fill="#15152a" fill-opacity="0.85"/>
<rect x="115.4" y="461.1" width="1.1" height="1.1" fill="#15152a" fill-opacity="0.85"/>
<rect x="109.9" y="463.4" width="1.1" height="1.1" fill="#15152a" fill-opacity="0.85"/>
<rect x="119.4" y="463.2" width="1.1" height="1.1" fill="#15152a" fill-opacity="0.85"/>
<rect x="112.3" y="468.2" width="1.1" height="1.1" fill="#15152a" fill-opacity="0.85"/>
<rect x="127.6" y="461.7" width="1.1" height="1.1" fill="#15152a" fill-opacity="0.85"/>
<rect x="106.7" y="459.2" width="1.1" height="1.1" fill="#15152a" fill-opacity="0.85"/>
<rect x="125.1" y="457.1" width="1.1" height="1.1" fill="#15152a" fill-opacity="0.85"/>
<rect x="121.3" y="463.9" width="1.1" height="1.1" fill="#15152a" fill-opacity="0.85"/>
<rect x="112.1" y="467.6" width="1.1" height="1.1" fill="#15152a" fill-opacity="0.85"/>
<rect x="105.4" y="460.6" width="1.1" height="1.1" fill="#15152a" fill-opacity="0.85"/>
<rect x="115.5" y="458.0" width="1.1" height="1.1" fill="#15152a" fill-opacity="0.85"/>
<rect x="124.1" y="459.6" width="1.1" height="1.1" fill="#15152a" fill-opacity="0.85"/>
<rect x="108.2" y="459.2" width="1.1" height="1.1" fill="#15152a" fill-opacity="0.85"/>
<rect x="119.5" y="462.6" width="1.1" height="1.1" fill="#15152a" fill-opacity="0.85"/>
<rect x="123.9" y="459.6" width="1.1" height="1.1" fill="#15152a" fill-opacity="0.85"/>
<rect x="127.8" y="461.7" width="1.1" height="1.1" fill="#15152a" fill-opacity="0.85"/>
<rect x="125.1" y="456.4" width="1.1" height="1.1" fill="#15152a" fill-opacity="0.85"/>
<rect x="120.5" y="456.3" width="1.1" height="1.1" fill="#15152a" fill-opacity="0.85"/>
<rect x="110.2" y="458.3" width="1.1" height="1.1" fill="#15152a" fill-opacity="0.85"/>
<rect x="125.7" y="456.3" width="1.1" height="1.1" fill="#15152a" fill-opacity="0.85"/>
<line x1="103.5" y1="436.8" x2="103.5" y2="494.2" stroke="#555" stroke-width="1" />
<line x1="88.3" y1="461.1" x2="146.7" y2="461.1" stroke="#555" stroke-width="1" />
<rect x="88.3" y="436.8" width="58.4" height="57.4" fill="none" stroke="#6a6a6a" stroke-width="0.9" />
<line x1="87.1" y1="448.28000000000003" x2="88.3" y2="448.28000000000003" stroke="#666" stroke-width="0.5" />
<line x1="87.1" y1="459.76" x2="88.3" y2="459.76" stroke="#666" stroke-width="0.5" />
<line x1="87.1" y1="471.24" x2="88.3" y2="471.24" stroke="#666" stroke-width="0.5" />
<line x1="87.1" y1="482.72" x2="88.3" y2="482.72" stroke="#666" stroke-width="0.5" />
<path d="M86.5,468.8 h1.8 v2.2 h-1.8z" fill="#222" stroke="none" stroke-width="1" />
<path d="M108.3,494.2 h2.5 v0.9 h-2.5z" fill="#222" stroke="none" stroke-width="1" />
<rect x="152.3" y="436.8" width="58.4" height="57.4" fill="#fff" stroke="none" stroke-width="1" />
<g filter="url(#jet)"><path d="M168,459 L180,460 L186,462 L184,465 L176,469 L169,474 Z" fill="#000" fill-opacity="0.25"/><path d="M159.8,461.0 C159.8,457.2 169.8,457.2 169.8,461.0 L169.0,474.6 C168.3,479.6 165.0,482.6 164.0,482.6 C162.5,481.6 160.0,474.6 159.8,461.0 Z" fill="#000" fill-opacity="0.3"/><ellipse cx="164.8" cy="468.3" rx="4.6" ry="10" fill="#000" fill-opacity="0.16"/><ellipse cx="164.7" cy="467.3" rx="3.6" ry="7.5" fill="#000" fill-opacity="0.16"/><ellipse cx="164.5" cy="466.3" rx="2.7" ry="5" fill="#000" fill-opacity="0.3"/><ellipse cx="164.5" cy="465.8" rx="1.7" ry="2.7" fill="#000" fill-opacity="0.6"/></g>
<rect x="180.3" y="459.5" width="1.1" height="1.1" fill="#15152a" fill-opacity="0.85"/>
<rect x="190.0" y="460.6" width="1.1" height="1.1" fill="#15152a" fill-opacity="0.85"/>
<rect x="188.1" y="463.7" width="1.1" height="1.1" fill="#15152a" fill-opacity="0.85"/>
<rect x="183.1" y="464.6" width="1.1" height="1.1" fill="#15152a" fill-opacity="0.85"/>
<rect x="194.8" y="455.0" width="1.1" height="1.1" fill="#15152a" fill-opacity="0.85"/>
<rect x="195.4" y="462.5" width="1.1" height="1.1" fill="#15152a" fill-opacity="0.85"/>
<rect x="177.0" y="461.1" width="1.1" height="1.1" fill="#15152a" fill-opacity="0.85"/>
<rect x="188.4" y="465.5" width="1.1" height="1.1" fill="#15152a" fill-opacity="0.85"/>
<rect x="182.7" y="462.0" width="1.1" height="1.1" fill="#15152a" fill-opacity="0.85"/>
<rect x="194.2" y="463.5" width="1.1" height="1.1" fill="#15152a" fill-opacity="0.85"/>
<rect x="195.7" y="459.4" width="1.1" height="1.1" fill="#15152a" fill-opacity="0.85"/>
<rect x="189.0" y="457.0" width="1.1" height="1.1" fill="#15152a" fill-opacity="0.85"/>
<rect x="190.6" y="464.2" width="1.1" height="1.1" fill="#15152a" fill-opacity="0.85"/>
<rect x="188.8" y="463.1" width="1.1" height="1.1" fill="#15152a" fill-opacity="0.85"/>
<rect x="178.9" y="466.3" width="1.1" height="1.1" fill="#15152a" fill-opacity="0.85"/>
<rect x="196.6" y="465.5" width="1.1" height="1.1" fill="#15152a" fill-opacity="0.85"/>
<rect x="186.4" y="464.3" width="1.1" height="1.1" fill="#15152a" fill-opacity="0.85"/>
<rect x="181.4" y="466.2" width="1.1" height="1.1" fill="#15152a" fill-opacity="0.85"/>
<rect x="193.7" y="458.2" width="1.1" height="1.1" fill="#15152a" fill-opacity="0.85"/>
<rect x="175.9" y="461.1" width="1.1" height="1.1" fill="#15152a" fill-opacity="0.85"/>
<rect x="186.7" y="464.0" width="1.1" height="1.1" fill="#15152a" fill-opacity="0.85"/>
<rect x="185.2" y="455.2" width="1.1" height="1.1" fill="#15152a" fill-opacity="0.85"/>
<rect x="192.6" y="454.9" width="1.1" height="1.1" fill="#15152a" fill-opacity="0.85"/>
<rect x="192.4" y="456.2" width="1.1" height="1.1" fill="#15152a" fill-opacity="0.85"/>
<rect x="181.7" y="464.7" width="1.1" height="1.1" fill="#15152a" fill-opacity="0.85"/>
<rect x="177.2" y="457.5" width="1.1" height="1.1" fill="#15152a" fill-opacity="0.85"/>
<rect x="185.9" y="463.5" width="1.1" height="1.1" fill="#15152a" fill-opacity="0.85"/>
<rect x="193.3" y="462.3" width="1.1" height="1.1" fill="#15152a" fill-opacity="0.85"/>
<rect x="195.8" y="459.7" width="1.1" height="1.1" fill="#15152a" fill-opacity="0.85"/>
<rect x="195.8" y="454.8" width="1.1" height="1.1" fill="#15152a" fill-opacity="0.85"/>
<rect x="179.1" y="461.8" width="1.1" height="1.1" fill="#15152a" fill-opacity="0.85"/>
<rect x="180.7" y="464.1" width="1.1" height="1.1" fill="#15152a" fill-opacity="0.85"/>
<rect x="188.7" y="460.8" width="1.1" height="1.1" fill="#15152a" fill-opacity="0.85"/>
<rect x="193.4" y="460.8" width="1.1" height="1.1" fill="#15152a" fill-opacity="0.85"/>
<rect x="181.2" y="459.9" width="1.1" height="1.1" fill="#15152a" fill-opacity="0.85"/>
<rect x="193.4" y="464.9" width="1.1" height="1.1" fill="#15152a" fill-opacity="0.85"/>
<rect x="178.8" y="465.7" width="1.1" height="1.1" fill="#15152a" fill-opacity="0.85"/>
<rect x="196.3" y="460.1" width="1.1" height="1.1" fill="#15152a" fill-opacity="0.85"/>
<rect x="187.2" y="457.1" width="1.1" height="1.1" fill="#15152a" fill-opacity="0.85"/>
<rect x="186.3" y="460.8" width="1.1" height="1.1" fill="#15152a" fill-opacity="0.85"/>
<rect x="187.9" y="454.9" width="1.1" height="1.1" fill="#15152a" fill-opacity="0.85"/>
<rect x="196.3" y="460.0" width="1.1" height="1.1" fill="#15152a" fill-opacity="0.85"/>
<rect x="183.2" y="464.7" width="1.1" height="1.1" fill="#15152a" fill-opacity="0.85"/>
<rect x="186.9" y="460.6" width="1.1" height="1.1" fill="#15152a" fill-opacity="0.85"/>
<rect x="189.9" y="455.2" width="1.1" height="1.1" fill="#15152a" fill-opacity="0.85"/>
<rect x="186.4" y="459.7" width="1.1" height="1.1" fill="#15152a" fill-opacity="0.85"/>
<rect x="196.0" y="464.9" width="1.1" height="1.1" fill="#15152a" fill-opacity="0.85"/>
<rect x="180.2" y="461.1" width="1.1" height="1.1" fill="#15152a" fill-opacity="0.85"/>
<rect x="176.9" y="460.9" width="1.1" height="1.1" fill="#15152a" fill-opacity="0.85"/>
<rect x="192.8" y="464.9" width="1.1" height="1.1" fill="#15152a" fill-opacity="0.85"/>
<rect x="185.0" y="458.7" width="1.1" height="1.1" fill="#15152a" fill-opacity="0.85"/>
<rect x="178.4" y="463.0" width="1.1" height="1.1" fill="#15152a" fill-opacity="0.85"/>
<rect x="195.3" y="455.4" width="1.1" height="1.1" fill="#15152a" fill-opacity="0.85"/>
<rect x="191.9" y="454.5" width="1.1" height="1.1" fill="#15152a" fill-opacity="0.85"/>
<rect x="178.5" y="458.3" width="1.1" height="1.1" fill="#15152a" fill-opacity="0.85"/>
<rect x="189.8" y="458.3" width="1.1" height="1.1" fill="#15152a" fill-opacity="0.85"/>
<rect x="182.2" y="462.6" width="1.1" height="1.1" fill="#15152a" fill-opacity="0.85"/>
<rect x="176.4" y="464.5" width="1.1" height="1.1" fill="#15152a" fill-opacity="0.85"/>
<rect x="176.8" y="461.8" width="1.1" height="1.1" fill="#15152a" fill-opacity="0.85"/>
<rect x="179.8" y="457.8" width="1.1" height="1.1" fill="#15152a" fill-opacity="0.85"/>
<line x1="167.5" y1="436.8" x2="167.5" y2="494.2" stroke="#555" stroke-width="1" />
<line x1="152.3" y1="461.1" x2="210.70000000000002" y2="461.1" stroke="#555" stroke-width="1" />
<rect x="152.3" y="436.8" width="58.4" height="57.4" fill="none" stroke="#6a6a6a" stroke-width="0.9" />
<line x1="151.10000000000002" y1="448.28000000000003" x2="152.3" y2="448.28000000000003" stroke="#666" stroke-width="0.5" />
<line x1="151.10000000000002" y1="459.76" x2="152.3" y2="459.76" stroke="#666" stroke-width="0.5" />
<line x1="151.10000000000002" y1="471.24" x2="152.3" y2="471.24" stroke="#666" stroke-width="0.5" />
<line x1="151.10000000000002" y1="482.72" x2="152.3" y2="482.72" stroke="#666" stroke-width="0.5" />
<path d="M150.5,468.8 h1.8 v2.2 h-1.8z" fill="#222" stroke="none" stroke-width="1" />
<path d="M172.3,494.2 h2.5 v0.9 h-2.5z" fill="#222" stroke="none" stroke-width="1" />
<line x1="82" y1="495.5" x2="82" y2="485" stroke="#111" stroke-width="1.1" />
<path d="M82,481.5 l-2,4.5 h4z" fill="#111" stroke="none" stroke-width="1" />
<text transform="translate(79.3,491) rotate(-90)" font-size="8.8" fill="#333" text-anchor="middle" textLength="20.5" lengthAdjust="spacingAndGlyphs" >γH2AX</text>
<line x1="88" y1="500.6" x2="103" y2="500.6" stroke="#111" stroke-width="1.1" />
<path d="M106.5,500.6 l-4.5,-2 v4z" fill="#111" stroke="none" stroke-width="1" />
<text x="88" y="512.3" font-size="8.8" fill="#333" text-anchor="start" textLength="15" lengthAdjust="spacingAndGlyphs" >Ki67</text>
<text x="256.5" y="374.8" font-size="7" fill="#c20f2f" text-anchor="start" font-style="italic" >VF</text>
<text x="276.8" y="374.8" font-size="7" fill="#2f5f9e" text-anchor="start" >VF;</text>
<text x="276.8" y="382.8" font-size="7" fill="#2f5f9e" text-anchor="start" >Dm<tspan font-size="4.5" dy="-3">Δ/Δ</tspan></text>
<text x="347" y="374.8" font-size="7" fill="#c20f2f" text-anchor="start" font-style="italic" >VF</text>
<text x="371.5" y="374.8" font-size="7" fill="#2f5f9e" text-anchor="start" >VF;</text>
<text x="371.5" y="382.8" font-size="7" fill="#2f5f9e" text-anchor="start" >Dm<tspan font-size="4.5" dy="-3">Δ/Δ</tspan></text>
<text x="233.5" y="403.5" font-size="6.6" fill="#333" text-anchor="start" >%</text>
<text x="324.8" y="403.5" font-size="6.6" fill="#333" text-anchor="start" >%</text>
<line x1="246.3" y1="409.8" x2="246.3" y2="496.3" stroke="#1e1e1e" stroke-width="1" />
<line x1="243.8" y1="411.3" x2="246.3" y2="411.3" stroke="#1e1e1e" stroke-width="0.9" />
<text x="242.3" y="413.6" font-size="6.8" fill="#333" text-anchor="end" >100</text>
<line x1="243.8" y1="432.55" x2="246.3" y2="432.55" stroke="#1e1e1e" stroke-width="0.9" />
<text x="242.3" y="434.85" font-size="6.8" fill="#333" text-anchor="end" >75</text>
<line x1="243.8" y1="453.8" x2="246.3" y2="453.8" stroke="#1e1e1e" stroke-width="0.9" />
<text x="242.3" y="456.1" font-size="6.8" fill="#333" text-anchor="end" >50</text>
<line x1="243.8" y1="475.05" x2="246.3" y2="475.05" stroke="#1e1e1e" stroke-width="0.9" />
<text x="242.3" y="477.35" font-size="6.8" fill="#333" text-anchor="end" >25</text>
<line x1="243.8" y1="496.3" x2="246.3" y2="496.3" stroke="#1e1e1e" stroke-width="0.9" />
<text x="242.3" y="498.6" font-size="6.8" fill="#333" text-anchor="end" >0</text>
<line x1="246.3" y1="496.3" x2="297.5" y2="496.3" stroke="#1e1e1e" stroke-width="1.1" />
<line x1="255.5" y1="481.425" x2="255.5" y2="480.15000000000003" stroke="#c20f2f" stroke-width="0.8" />
<line x1="254.2" y1="480.15000000000003" x2="256.8" y2="480.15000000000003" stroke="#c20f2f" stroke-width="0.8" />
<rect x="253.35" y="481.875" width="4.3" height="14.425" fill="#fff" stroke="#c20f2f" stroke-width="0.9" />
<rect x="252.9" y="495.45" width="5.2" height="0.8500000000000227" fill="#c20f2f" stroke="none" stroke-width="1" />
<line x1="255.5" y1="496.3" x2="255.5" y2="498.8" stroke="#1e1e1e" stroke-width="0.9" />
<line x1="265.3" y1="458.05" x2="265.3" y2="453.8" stroke="#c20f2f" stroke-width="0.8" />
<line x1="264.0" y1="453.8" x2="266.6" y2="453.8" stroke="#c20f2f" stroke-width="0.8" />
<rect x="263.15" y="458.5" width="4.3" height="37.8" fill="#fff" stroke="#c20f2f" stroke-width="0.9" />
<line x1="265.3" y1="487.8" x2="265.3" y2="485.25" stroke="#c20f2f" stroke-width="0.8" />
<line x1="263.7" y1="485.25" x2="266.90000000000003" y2="485.25" stroke="#c20f2f" stroke-width="0.8" />
<rect x="262.7" y="487.8" width="5.2" height="8.5" fill="#c20f2f" stroke="none" stroke-width="1" />
<line x1="265.3" y1="496.3" x2="265.3" y2="498.8" stroke="#1e1e1e" stroke-width="0.9" />
<line x1="279.8" y1="475.05" x2="279.8" y2="469.95" stroke="#12498a" stroke-width="0.8" />
<line x1="278.5" y1="469.95" x2="281.1" y2="469.95" stroke="#12498a" stroke-width="0.8" />
<rect x="277.65" y="475.5" width="4.3" height="20.8" fill="#fff" stroke="#12498a" stroke-width="0.9" />
<rect x="277.2" y="494.6" width="5.2" height="1.6999999999999886" fill="#12498a" stroke="none" stroke-width="1" />
<line x1="279.8" y1="496.3" x2="279.8" y2="498.8" stroke="#1e1e1e" stroke-width="0.9" />
<line x1="289.3" y1="474.2" x2="289.3" y2="469.95" stroke="#12498a" stroke-width="0.8" />
<line x1="288.0" y1="469.95" x2="290.6" y2="469.95" stroke="#12498a" stroke-width="0.8" />
<rect x="287.15" y="474.65" width="4.3" height="21.650000000000023" fill="#fff" stroke="#12498a" stroke-width="0.9" />
<rect x="286.7" y="494.6" width="5.2" height="1.6999999999999886" fill="#12498a" stroke="none" stroke-width="1" />
<line x1="289.3" y1="496.3" x2="289.3" y2="498.8" stroke="#1e1e1e" stroke-width="0.9" />
<text x="255.5" y="507.3" font-size="7" fill="#333" text-anchor="middle" >V</text>
<text x="265.3" y="507.3" font-size="7" fill="#f1b250" text-anchor="middle" >IF</text>
<text x="279.8" y="507.3" font-size="7" fill="#333" text-anchor="middle" >V</text>
<text x="289.3" y="507.3" font-size="7" fill="#f1b250" text-anchor="middle" >IF</text>
<text transform="translate(225.6,453) rotate(-90)" font-size="8.6" fill="#333" text-anchor="middle" textLength="17.7" lengthAdjust="spacingAndGlyphs" >Ki67<tspan font-size="5" dy="-3.5">+</tspan></text>
<text x="259.5" y="442.1" font-size="7.475" fill="#1e1e1e" text-anchor="middle" >*</text>
<path d="M250.3,444.0V441.5H266V444.0" fill="none" stroke="#1e1e1e" stroke-width="0.9" />
<text x="283.3" y="439.3" font-size="6" fill="#333" text-anchor="middle" font-style="italic" >ns</text>
<path d="M277,444.0V441.5H292.5V444.0" fill="none" stroke="#1e1e1e" stroke-width="0.9" />
<text x="265.5" y="453.6" font-size="7.475" fill="#c20f2f" text-anchor="middle" textLength="5.1" lengthAdjust="spacingAndGlyphs" >**</text>
<line x1="337.7" y1="410.5" x2="337.7" y2="496.3" stroke="#1e1e1e" stroke-width="1" />
<line x1="335.2" y1="412.0" x2="337.7" y2="412.0" stroke="#1e1e1e" stroke-width="0.9" />
<text x="333.7" y="414.3" font-size="6.8" fill="#333" text-anchor="end" >100</text>
<line x1="335.2" y1="433.075" x2="337.7" y2="433.075" stroke="#1e1e1e" stroke-width="0.9" />
<text x="333.7" y="435.375" font-size="6.8" fill="#333" text-anchor="end" >75</text>
<line x1="335.2" y1="454.15" x2="337.7" y2="454.15" stroke="#1e1e1e" stroke-width="0.9" />
<text x="333.7" y="456.45" font-size="6.8" fill="#333" text-anchor="end" >50</text>
<line x1="335.2" y1="475.225" x2="337.7" y2="475.225" stroke="#1e1e1e" stroke-width="0.9" />
<text x="333.7" y="477.52500000000003" font-size="6.8" fill="#333" text-anchor="end" >25</text>
<line x1="335.2" y1="496.3" x2="337.7" y2="496.3" stroke="#1e1e1e" stroke-width="0.9" />
<text x="333.7" y="498.6" font-size="6.8" fill="#333" text-anchor="end" >0</text>
<line x1="337.7" y1="496.3" x2="388" y2="496.3" stroke="#1e1e1e" stroke-width="1.1" />
<line x1="345.8" y1="412.0" x2="345.8" y2="403.57" stroke="#c20f2f" stroke-width="0.8" />
<line x1="344.5" y1="403.57" x2="347.1" y2="403.57" stroke="#c20f2f" stroke-width="0.8" />
<rect x="343.55" y="412.45" width="4.5" height="83.85000000000001" fill="#fff" stroke="#c20f2f" stroke-width="0.9" />
<rect x="343.1" y="491.242" width="5.4" height="5.057999999999993" fill="#c20f2f" stroke="none" stroke-width="1" />
<line x1="345.8" y1="496.3" x2="345.8" y2="498.8" stroke="#1e1e1e" stroke-width="0.9" />
<line x1="356.7" y1="412.0" x2="356.7" y2="403.57" stroke="#c20f2f" stroke-width="0.8" />
<line x1="355.4" y1="403.57" x2="358.0" y2="403.57" stroke="#c20f2f" stroke-width="0.8" />
<rect x="354.45" y="412.45" width="4.5" height="83.85000000000001" fill="#fff" stroke="#c20f2f" stroke-width="0.9" />
<line x1="356.7" y1="476.911" x2="356.7" y2="470.16700000000003" stroke="#c20f2f" stroke-width="0.8" />
<line x1="355.09999999999997" y1="470.16700000000003" x2="358.3" y2="470.16700000000003" stroke="#c20f2f" stroke-width="0.8" />
<rect x="354.0" y="476.911" width="5.4" height="19.38900000000001" fill="#c20f2f" stroke="none" stroke-width="1" />
<line x1="356.7" y1="496.3" x2="356.7" y2="498.8" stroke="#1e1e1e" stroke-width="0.9" />
<line x1="371.6" y1="412.0" x2="371.6" y2="394.297" stroke="#12498a" stroke-width="0.8" />
<line x1="370.3" y1="394.297" x2="372.90000000000003" y2="394.297" stroke="#12498a" stroke-width="0.8" />
<rect x="369.35" y="412.45" width="4.5" height="83.85000000000001" fill="#fff" stroke="#12498a" stroke-width="0.9" />
<line x1="371.6" y1="487.87" x2="371.6" y2="481.969" stroke="#12498a" stroke-width="0.8" />
<line x1="370.0" y1="481.969" x2="373.20000000000005" y2="481.969" stroke="#12498a" stroke-width="0.8" />
<rect x="368.90000000000003" y="487.87" width="5.4" height="8.430000000000007" fill="#12498a" stroke="none" stroke-width="1" />
<line x1="371.6" y1="496.3" x2="371.6" y2="498.8" stroke="#1e1e1e" stroke-width="0.9" />
<line x1="382.5" y1="412.0" x2="382.5" y2="394.297" stroke="#12498a" stroke-width="0.8" />
<line x1="381.2" y1="394.297" x2="383.8" y2="394.297" stroke="#12498a" stroke-width="0.8" />
<rect x="380.25" y="412.45" width="4.5" height="83.85000000000001" fill="#fff" stroke="#12498a" stroke-width="0.9" />
<rect x="379.8" y="489.556" width="5.4" height="6.744000000000028" fill="#12498a" stroke="none" stroke-width="1" />
<line x1="382.5" y1="496.3" x2="382.5" y2="498.8" stroke="#1e1e1e" stroke-width="0.9" />
<text x="345.8" y="507.3" font-size="7" fill="#333" text-anchor="middle" >V</text>
<text x="356.7" y="507.3" font-size="7" fill="#f1b250" text-anchor="middle" >IF</text>
<text x="371.6" y="507.3" font-size="7" fill="#333" text-anchor="middle" >V</text>
<text x="382.5" y="507.3" font-size="7" fill="#f1b250" text-anchor="middle" >IF</text>
<text x="351.3" y="393.20000000000005" font-size="7.475" fill="#1e1e1e" text-anchor="middle" textLength="5.1" lengthAdjust="spacingAndGlyphs" >**</text>
<path d="M343.4,396.8V394.3H359.6V396.8" fill="none" stroke="#1e1e1e" stroke-width="0.9" />
<text x="393.5" y="450" font-size="6.9" fill="#333" text-anchor="start" textLength="20.3" lengthAdjust="spacingAndGlyphs" >γH2AX<tspan font-size="4" dy="-2.8">–</tspan></text>
<text x="393.5" y="494.5" font-size="6.9" fill="#333" text-anchor="start" textLength="20.3" lengthAdjust="spacingAndGlyphs" >γH2AX<tspan font-size="4" dy="-2.8">+</tspan></text>
<text x="441.2" y="403.8" font-size="6.6" fill="#333" text-anchor="start" >%</text>
<text x="463.8" y="403.8" font-size="7" fill="#c20f2f" text-anchor="start" font-style="italic" textLength="7.2" lengthAdjust="spacingAndGlyphs" >VF</text>
<text x="482" y="403.8" font-size="7" fill="#12498a" text-anchor="start" font-style="italic" textLength="26.4" lengthAdjust="spacingAndGlyphs" >VF;Dm<tspan font-size="4.5" dy="-3">Δ/Δ</tspan></text>
<line x1="458.2" y1="407.8" x2="476.6" y2="407.8" stroke="#1e1e1e" stroke-width="1" />
<line x1="485" y1="407.8" x2="504" y2="407.8" stroke="#1e1e1e" stroke-width="1" />
<line x1="454.2" y1="412" x2="454.2" y2="497.5" stroke="#1e1e1e" stroke-width="1" />
<line x1="451.7" y1="412.4" x2="454.2" y2="412.4" stroke="#1e1e1e" stroke-width="0.9" />
<text x="450.2" y="414.7" font-size="6.8" fill="#333" text-anchor="end" >100</text>
<line x1="451.7" y1="429.41999999999996" x2="454.2" y2="429.41999999999996" stroke="#1e1e1e" stroke-width="0.9" />
<text x="450.2" y="431.71999999999997" font-size="6.8" fill="#333" text-anchor="end" >80</text>
<line x1="451.7" y1="446.44" x2="454.2" y2="446.44" stroke="#1e1e1e" stroke-width="0.9" />
<text x="450.2" y="448.74" font-size="6.8" fill="#333" text-anchor="end" >60</text>
<line x1="451.7" y1="463.46" x2="454.2" y2="463.46" stroke="#1e1e1e" stroke-width="0.9" />
<text x="450.2" y="465.76" font-size="6.8" fill="#333" text-anchor="end" >40</text>
<line x1="451.7" y1="480.48" x2="454.2" y2="480.48" stroke="#1e1e1e" stroke-width="0.9" />
<text x="450.2" y="482.78000000000003" font-size="6.8" fill="#333" text-anchor="end" >20</text>
<line x1="451.7" y1="497.5" x2="454.2" y2="497.5" stroke="#1e1e1e" stroke-width="0.9" />
<text x="450.2" y="499.8" font-size="6.8" fill="#333" text-anchor="end" >0</text>
<line x1="454.2" y1="497.5" x2="508.6" y2="497.5" stroke="#1e1e1e" stroke-width="1.2" />
<line x1="462.2" y1="488.139" x2="462.2" y2="486.437" stroke="#c20f2f" stroke-width="0.8" />
<line x1="460.9" y1="486.437" x2="463.5" y2="486.437" stroke="#c20f2f" stroke-width="0.8" />
<rect x="458.65" y="488.589" width="7.1" height="8.91099999999999" fill="#fff" stroke="#c20f2f" stroke-width="0.9" />
<line x1="462.2" y1="497.5" x2="462.2" y2="500" stroke="#1e1e1e" stroke-width="0.9" />
<line x1="472.2" y1="479.2035" x2="472.2" y2="475.374" stroke="#c20f2f" stroke-width="0.8" />
<line x1="470.9" y1="475.374" x2="473.5" y2="475.374" stroke="#c20f2f" stroke-width="0.8" />
<rect x="468.2" y="479.2035" width="8" height="18.29649999999998" fill="#c20f2f" stroke="none" stroke-width="1" />
<line x1="472.2" y1="497.5" x2="472.2" y2="500" stroke="#1e1e1e" stroke-width="0.9" />
<line x1="489.8" y1="491.1175" x2="489.8" y2="488.99" stroke="#12498a" stroke-width="0.8" />
<line x1="488.5" y1="488.99" x2="491.1" y2="488.99" stroke="#12498a" stroke-width="0.8" />
<rect x="486.25" y="491.5675" width="7.1" height="5.932499999999993" fill="#fff" stroke="#12498a" stroke-width="0.9" />
<line x1="489.8" y1="497.5" x2="489.8" y2="500" stroke="#1e1e1e" stroke-width="0.9" />
<line x1="499.8" y1="489.841" x2="499.8" y2="488.139" stroke="#12498a" stroke-width="0.8" />
<line x1="498.5" y1="488.139" x2="501.1" y2="488.139" stroke="#12498a" stroke-width="0.8" />
<rect x="495.8" y="489.841" width="8" height="7.658999999999992" fill="#12498a" stroke="none" stroke-width="1" />
<line x1="499.8" y1="497.5" x2="499.8" y2="500" stroke="#1e1e1e" stroke-width="0.9" />
<text x="462.2" y="507" font-size="7" fill="#333" text-anchor="middle" >V</text>
<text x="472.5" y="507" font-size="7" fill="#f1b250" text-anchor="middle" >IF</text>
<text x="489.8" y="507" font-size="7" fill="#333" text-anchor="middle" >V</text>
<text x="500" y="507" font-size="7" fill="#f1b250" text-anchor="middle" >IF</text>
<path d="M462.2,480.8V465.3H472.6V470.1" fill="none" stroke="#1e1e1e" stroke-width="0.9" />
<path d="M474.8,470.1V465.3H503.7V482.8" fill="none" stroke="#1e1e1e" stroke-width="0.9" />
<text x="467.5" y="461.8" font-size="7.475" fill="#1e1e1e" text-anchor="middle" >*</text>
<text x="489.8" y="461.8" font-size="7.475" fill="#1e1e1e" text-anchor="middle" >*</text>
<text transform="translate(433.4,453.2) rotate(-90)" font-size="7.2" fill="#333" text-anchor="middle" textLength="43.6" lengthAdjust="spacingAndGlyphs" >CellROX+ cells</text></svg></body></html>
